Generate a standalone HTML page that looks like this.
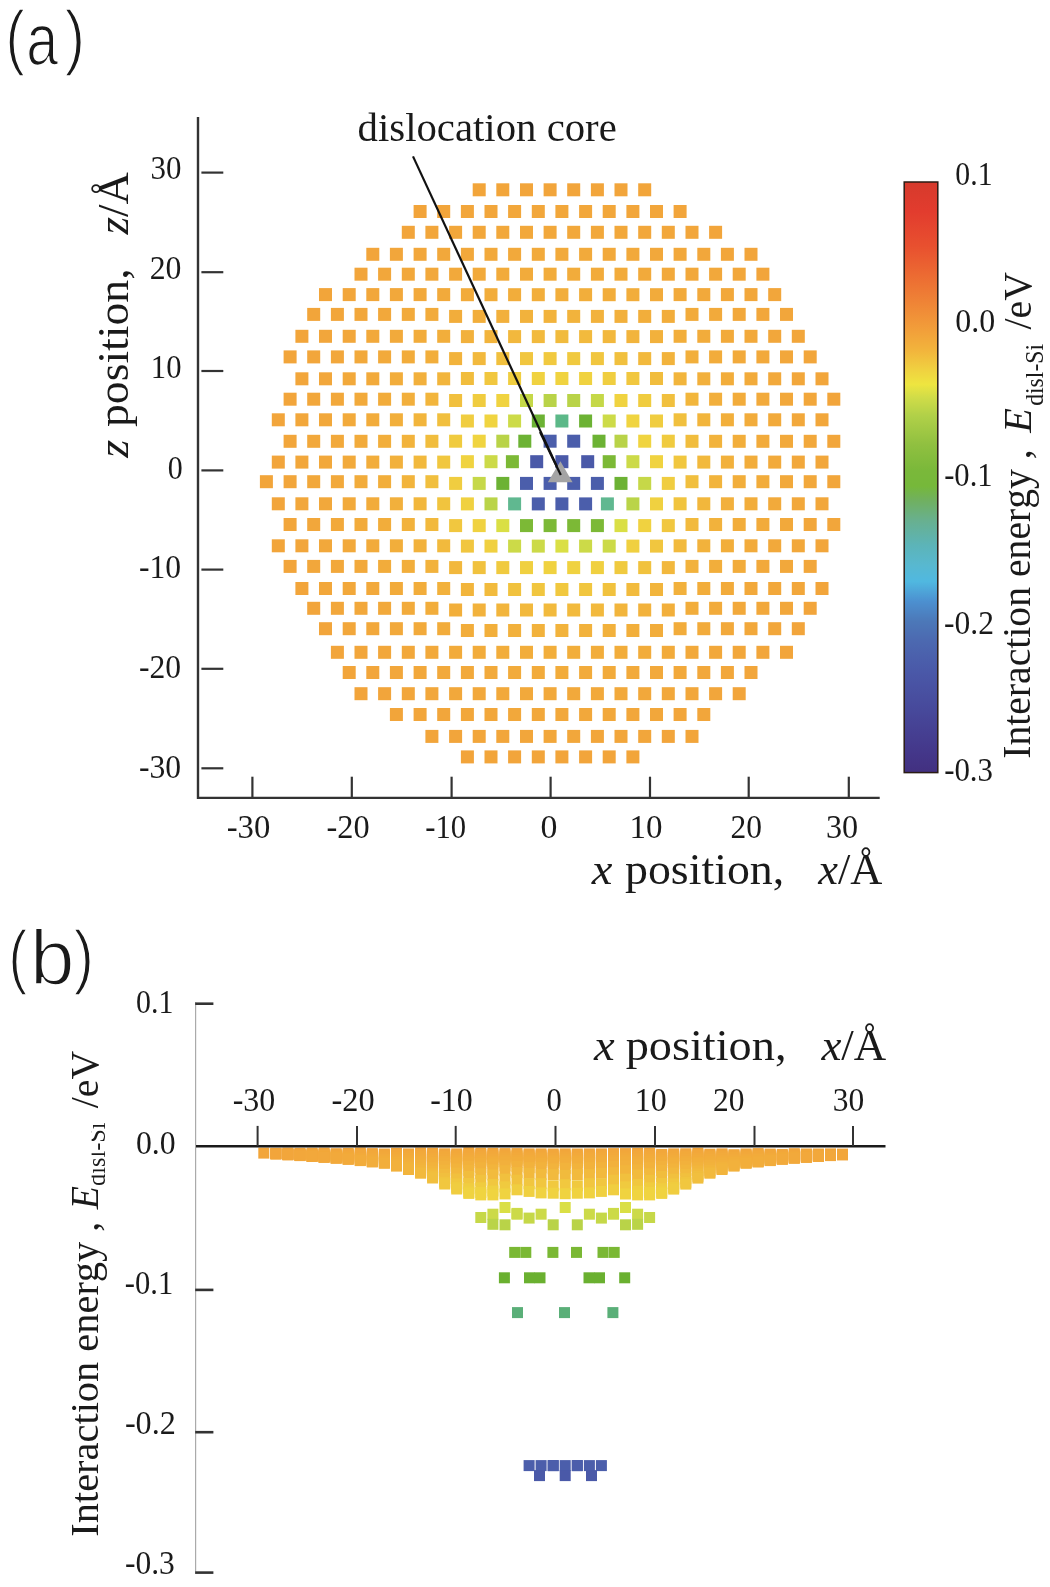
<!DOCTYPE html>
<html><head><meta charset="utf-8"><title>figure</title>
<style>html,body{margin:0;padding:0;background:#fff;width:1050px;height:1587px;overflow:hidden}svg{display:block;filter:blur(0.45px)}</style>
</head><body>
<svg width="1050" height="1587" viewBox="0 0 1050 1587">
<rect width="1050" height="1587" fill="#fff"/>
<path d="M198,117 V797.9 H879.7" fill="none" stroke="#333" stroke-width="2.4"/>
<line x1="201.4" y1="172.6" x2="223.3" y2="172.6" stroke="#333" stroke-width="2.2"/>
<line x1="201.4" y1="272.2" x2="223.3" y2="272.2" stroke="#333" stroke-width="2.2"/>
<line x1="201.4" y1="371" x2="223.3" y2="371" stroke="#333" stroke-width="2.2"/>
<line x1="201.4" y1="470.4" x2="223.3" y2="470.4" stroke="#333" stroke-width="2.2"/>
<line x1="201.4" y1="569.6" x2="223.3" y2="569.6" stroke="#333" stroke-width="2.2"/>
<line x1="201.4" y1="668.8" x2="223.3" y2="668.8" stroke="#333" stroke-width="2.2"/>
<line x1="201.4" y1="768.3" x2="223.3" y2="768.3" stroke="#333" stroke-width="2.2"/>
<line x1="252.4" y1="776.7" x2="252.4" y2="797" stroke="#333" stroke-width="2.2"/>
<line x1="351.8" y1="776.7" x2="351.8" y2="797" stroke="#333" stroke-width="2.2"/>
<line x1="451.6" y1="776.7" x2="451.6" y2="797" stroke="#333" stroke-width="2.2"/>
<line x1="550.6" y1="776.7" x2="550.6" y2="797" stroke="#333" stroke-width="2.2"/>
<line x1="650" y1="776.7" x2="650" y2="797" stroke="#333" stroke-width="2.2"/>
<line x1="748.7" y1="776.7" x2="748.7" y2="797" stroke="#333" stroke-width="2.2"/>
<line x1="848.8" y1="776.7" x2="848.8" y2="797" stroke="#333" stroke-width="2.2"/>
<rect x="472.7" y="183.3" width="13.0" height="13.0" fill="#F2A53A"/>
<rect x="496.3" y="183.3" width="13.0" height="13.0" fill="#F2A53A"/>
<rect x="520.0" y="183.3" width="13.0" height="13.0" fill="#F2A53B"/>
<rect x="543.6" y="183.3" width="13.0" height="13.0" fill="#F2A53B"/>
<rect x="567.2" y="183.3" width="13.0" height="13.0" fill="#F2A53B"/>
<rect x="590.9" y="183.3" width="13.0" height="13.0" fill="#F2A53B"/>
<rect x="614.5" y="183.3" width="13.0" height="13.0" fill="#F2A53B"/>
<rect x="638.2" y="183.3" width="13.0" height="13.0" fill="#F2A53A"/>
<rect x="413.6" y="205.0" width="13.0" height="13.0" fill="#F2A43A"/>
<rect x="437.2" y="205.0" width="13.0" height="13.0" fill="#F2A53B"/>
<rect x="460.9" y="205.0" width="13.0" height="13.0" fill="#F2A63B"/>
<rect x="484.5" y="205.0" width="13.0" height="13.0" fill="#F2A63B"/>
<rect x="508.1" y="205.0" width="13.0" height="13.0" fill="#F2A73B"/>
<rect x="531.8" y="205.0" width="13.0" height="13.0" fill="#F2A73B"/>
<rect x="555.4" y="205.0" width="13.0" height="13.0" fill="#F2A73B"/>
<rect x="579.1" y="205.0" width="13.0" height="13.0" fill="#F2A73B"/>
<rect x="602.7" y="205.0" width="13.0" height="13.0" fill="#F2A73B"/>
<rect x="626.4" y="205.0" width="13.0" height="13.0" fill="#F2A63B"/>
<rect x="650.0" y="205.0" width="13.0" height="13.0" fill="#F2A63B"/>
<rect x="673.6" y="205.0" width="13.0" height="13.0" fill="#F2A53B"/>
<rect x="401.8" y="225.8" width="13.0" height="13.0" fill="#F2A53B"/>
<rect x="425.4" y="225.8" width="13.0" height="13.0" fill="#F2A63B"/>
<rect x="449.1" y="225.8" width="13.0" height="13.0" fill="#F2A73B"/>
<rect x="472.7" y="225.8" width="13.0" height="13.0" fill="#F2A73B"/>
<rect x="496.3" y="225.8" width="13.0" height="13.0" fill="#F2A83B"/>
<rect x="520.0" y="225.8" width="13.0" height="13.0" fill="#F2A83B"/>
<rect x="543.6" y="225.8" width="13.0" height="13.0" fill="#F2A83B"/>
<rect x="567.2" y="225.8" width="13.0" height="13.0" fill="#F2A83B"/>
<rect x="590.9" y="225.8" width="13.0" height="13.0" fill="#F2A83B"/>
<rect x="614.5" y="225.8" width="13.0" height="13.0" fill="#F2A83B"/>
<rect x="638.2" y="225.8" width="13.0" height="13.0" fill="#F2A73B"/>
<rect x="661.8" y="225.8" width="13.0" height="13.0" fill="#F2A73B"/>
<rect x="685.5" y="225.8" width="13.0" height="13.0" fill="#F2A63B"/>
<rect x="709.1" y="225.8" width="13.0" height="13.0" fill="#F2A53B"/>
<rect x="366.3" y="247.8" width="13.0" height="13.0" fill="#F2A53B"/>
<rect x="389.9" y="247.8" width="13.0" height="13.0" fill="#F2A63B"/>
<rect x="413.6" y="247.8" width="13.0" height="13.0" fill="#F2A73B"/>
<rect x="437.2" y="247.8" width="13.0" height="13.0" fill="#F2A83B"/>
<rect x="460.9" y="247.8" width="13.0" height="13.0" fill="#F2A83B"/>
<rect x="484.5" y="247.8" width="13.0" height="13.0" fill="#F2A93B"/>
<rect x="508.1" y="247.8" width="13.0" height="13.0" fill="#F2A93B"/>
<rect x="531.8" y="247.8" width="13.0" height="13.0" fill="#F2AA3B"/>
<rect x="555.4" y="247.8" width="13.0" height="13.0" fill="#F2AA3B"/>
<rect x="579.1" y="247.8" width="13.0" height="13.0" fill="#F2AA3B"/>
<rect x="602.7" y="247.8" width="13.0" height="13.0" fill="#F2A93B"/>
<rect x="626.4" y="247.8" width="13.0" height="13.0" fill="#F2A93B"/>
<rect x="650.0" y="247.8" width="13.0" height="13.0" fill="#F2A83B"/>
<rect x="673.6" y="247.8" width="13.0" height="13.0" fill="#F2A83B"/>
<rect x="697.3" y="247.8" width="13.0" height="13.0" fill="#F2A73B"/>
<rect x="720.9" y="247.8" width="13.0" height="13.0" fill="#F2A63B"/>
<rect x="744.5" y="247.8" width="13.0" height="13.0" fill="#F2A53B"/>
<rect x="354.5" y="267.7" width="13.0" height="13.0" fill="#F2A53B"/>
<rect x="378.1" y="267.7" width="13.0" height="13.0" fill="#F2A73B"/>
<rect x="401.8" y="267.7" width="13.0" height="13.0" fill="#F2A83B"/>
<rect x="425.4" y="267.7" width="13.0" height="13.0" fill="#F2A83B"/>
<rect x="449.1" y="267.7" width="13.0" height="13.0" fill="#F2A93B"/>
<rect x="472.7" y="267.7" width="13.0" height="13.0" fill="#F2AA3B"/>
<rect x="496.3" y="267.7" width="13.0" height="13.0" fill="#F2AB3B"/>
<rect x="520.0" y="267.7" width="13.0" height="13.0" fill="#F2AB3B"/>
<rect x="543.6" y="267.7" width="13.0" height="13.0" fill="#F2AC3B"/>
<rect x="567.2" y="267.7" width="13.0" height="13.0" fill="#F2AC3B"/>
<rect x="590.9" y="267.7" width="13.0" height="13.0" fill="#F2AB3B"/>
<rect x="614.5" y="267.7" width="13.0" height="13.0" fill="#F2AB3B"/>
<rect x="638.2" y="267.7" width="13.0" height="13.0" fill="#F2AA3B"/>
<rect x="661.8" y="267.7" width="13.0" height="13.0" fill="#F2A93B"/>
<rect x="685.5" y="267.7" width="13.0" height="13.0" fill="#F2A83B"/>
<rect x="709.1" y="267.7" width="13.0" height="13.0" fill="#F2A83B"/>
<rect x="732.7" y="267.7" width="13.0" height="13.0" fill="#F2A73B"/>
<rect x="756.4" y="267.7" width="13.0" height="13.0" fill="#F2A53B"/>
<rect x="319.0" y="288.1" width="13.0" height="13.0" fill="#F2A53A"/>
<rect x="342.7" y="288.1" width="13.0" height="13.0" fill="#F2A63B"/>
<rect x="366.3" y="288.1" width="13.0" height="13.0" fill="#F2A73B"/>
<rect x="389.9" y="288.1" width="13.0" height="13.0" fill="#F2A83B"/>
<rect x="413.6" y="288.1" width="13.0" height="13.0" fill="#F2A93B"/>
<rect x="437.2" y="288.1" width="13.0" height="13.0" fill="#F2AA3B"/>
<rect x="460.9" y="288.2" width="13.0" height="13.0" fill="#F2AB3B"/>
<rect x="484.5" y="288.2" width="13.0" height="13.0" fill="#F2AD3B"/>
<rect x="508.1" y="288.2" width="13.0" height="13.0" fill="#F2AD3B"/>
<rect x="531.8" y="288.2" width="13.0" height="13.0" fill="#F2AE3B"/>
<rect x="555.4" y="288.2" width="13.0" height="13.0" fill="#F2AE3B"/>
<rect x="579.1" y="288.2" width="13.0" height="13.0" fill="#F2AE3B"/>
<rect x="602.7" y="288.2" width="13.0" height="13.0" fill="#F2AD3B"/>
<rect x="626.4" y="288.2" width="13.0" height="13.0" fill="#F2AD3B"/>
<rect x="650.0" y="288.2" width="13.0" height="13.0" fill="#F2AB3B"/>
<rect x="673.6" y="288.1" width="13.0" height="13.0" fill="#F2AA3B"/>
<rect x="697.3" y="288.1" width="13.0" height="13.0" fill="#F2A93B"/>
<rect x="720.9" y="288.1" width="13.0" height="13.0" fill="#F2A83B"/>
<rect x="744.5" y="288.1" width="13.0" height="13.0" fill="#F2A73B"/>
<rect x="768.2" y="288.1" width="13.0" height="13.0" fill="#F2A63B"/>
<rect x="307.2" y="307.9" width="13.0" height="13.0" fill="#F2A53A"/>
<rect x="330.9" y="307.9" width="13.0" height="13.0" fill="#F2A63B"/>
<rect x="354.5" y="307.9" width="13.0" height="13.0" fill="#F2A73B"/>
<rect x="378.1" y="307.9" width="13.0" height="13.0" fill="#F2A83B"/>
<rect x="401.8" y="307.9" width="13.0" height="13.0" fill="#F2AA3B"/>
<rect x="425.4" y="307.9" width="13.0" height="13.0" fill="#F2AB3B"/>
<rect x="449.1" y="309.9" width="13.0" height="13.0" fill="#F2AD3B"/>
<rect x="472.7" y="309.9" width="13.0" height="13.0" fill="#F2AE3B"/>
<rect x="496.3" y="309.9" width="13.0" height="13.0" fill="#F2B03C"/>
<rect x="520.0" y="309.9" width="13.0" height="13.0" fill="#F2B23C"/>
<rect x="543.6" y="309.9" width="13.0" height="13.0" fill="#F2B33C"/>
<rect x="567.2" y="309.9" width="13.0" height="13.0" fill="#F2B33C"/>
<rect x="590.9" y="309.9" width="13.0" height="13.0" fill="#F2B23C"/>
<rect x="614.5" y="309.9" width="13.0" height="13.0" fill="#F2B03C"/>
<rect x="638.2" y="309.9" width="13.0" height="13.0" fill="#F2AE3B"/>
<rect x="661.8" y="309.9" width="13.0" height="13.0" fill="#F2AD3B"/>
<rect x="685.5" y="307.9" width="13.0" height="13.0" fill="#F2AB3B"/>
<rect x="709.1" y="307.9" width="13.0" height="13.0" fill="#F2AA3B"/>
<rect x="732.7" y="307.9" width="13.0" height="13.0" fill="#F2A83B"/>
<rect x="756.4" y="307.9" width="13.0" height="13.0" fill="#F2A73B"/>
<rect x="780.0" y="307.9" width="13.0" height="13.0" fill="#F2A63B"/>
<rect x="295.4" y="329.8" width="13.0" height="13.0" fill="#F2A53A"/>
<rect x="319.0" y="329.8" width="13.0" height="13.0" fill="#F2A63B"/>
<rect x="342.7" y="329.8" width="13.0" height="13.0" fill="#F2A73B"/>
<rect x="366.3" y="329.8" width="13.0" height="13.0" fill="#F2A93B"/>
<rect x="389.9" y="329.8" width="13.0" height="13.0" fill="#F2AA3B"/>
<rect x="413.6" y="329.8" width="13.0" height="13.0" fill="#F2AC3B"/>
<rect x="437.2" y="329.8" width="13.0" height="13.0" fill="#F2AE3B"/>
<rect x="460.9" y="330.1" width="13.0" height="13.0" fill="#F2B13C"/>
<rect x="484.5" y="330.1" width="13.0" height="13.0" fill="#F2B43C"/>
<rect x="508.1" y="330.1" width="13.0" height="13.0" fill="#F2B83D"/>
<rect x="531.8" y="330.1" width="13.0" height="13.0" fill="#F2BA3D"/>
<rect x="555.4" y="330.1" width="13.0" height="13.0" fill="#F1BB3D"/>
<rect x="579.1" y="330.1" width="13.0" height="13.0" fill="#F2BA3D"/>
<rect x="602.7" y="330.1" width="13.0" height="13.0" fill="#F2B83D"/>
<rect x="626.4" y="330.1" width="13.0" height="13.0" fill="#F2B43C"/>
<rect x="650.0" y="330.1" width="13.0" height="13.0" fill="#F2B13C"/>
<rect x="673.6" y="329.8" width="13.0" height="13.0" fill="#F2AE3B"/>
<rect x="697.3" y="329.8" width="13.0" height="13.0" fill="#F2AC3B"/>
<rect x="720.9" y="329.8" width="13.0" height="13.0" fill="#F2AA3B"/>
<rect x="744.5" y="329.8" width="13.0" height="13.0" fill="#F2A93B"/>
<rect x="768.2" y="329.8" width="13.0" height="13.0" fill="#F2A73B"/>
<rect x="791.8" y="329.8" width="13.0" height="13.0" fill="#F2A63B"/>
<rect x="283.6" y="350.4" width="13.0" height="13.0" fill="#F2A53A"/>
<rect x="307.2" y="350.4" width="13.0" height="13.0" fill="#F2A63B"/>
<rect x="330.9" y="350.4" width="13.0" height="13.0" fill="#F2A73B"/>
<rect x="354.5" y="350.4" width="13.0" height="13.0" fill="#F2A93B"/>
<rect x="378.1" y="350.4" width="13.0" height="13.0" fill="#F2AA3B"/>
<rect x="401.8" y="350.4" width="13.0" height="13.0" fill="#F2AC3B"/>
<rect x="425.4" y="350.4" width="13.0" height="13.0" fill="#F2AE3B"/>
<rect x="449.1" y="352.1" width="13.0" height="13.0" fill="#F2B33C"/>
<rect x="472.7" y="352.1" width="13.0" height="13.0" fill="#F2B93D"/>
<rect x="496.3" y="352.1" width="13.0" height="13.0" fill="#F1C03E"/>
<rect x="520.0" y="352.1" width="13.0" height="13.0" fill="#F1C63F"/>
<rect x="543.6" y="352.1" width="13.0" height="13.0" fill="#F1C93F"/>
<rect x="567.2" y="352.1" width="13.0" height="13.0" fill="#F0C93F"/>
<rect x="590.9" y="352.1" width="13.0" height="13.0" fill="#F1C63F"/>
<rect x="614.5" y="352.1" width="13.0" height="13.0" fill="#F1C03E"/>
<rect x="638.2" y="352.1" width="13.0" height="13.0" fill="#F2B93D"/>
<rect x="661.8" y="352.1" width="13.0" height="13.0" fill="#F2B33C"/>
<rect x="685.5" y="350.4" width="13.0" height="13.0" fill="#F2AF3B"/>
<rect x="709.1" y="350.4" width="13.0" height="13.0" fill="#F2AC3B"/>
<rect x="732.7" y="350.4" width="13.0" height="13.0" fill="#F2AA3B"/>
<rect x="756.4" y="350.4" width="13.0" height="13.0" fill="#F2A93B"/>
<rect x="780.0" y="350.4" width="13.0" height="13.0" fill="#F2A73B"/>
<rect x="803.7" y="350.4" width="13.0" height="13.0" fill="#F2A63B"/>
<rect x="295.4" y="372.3" width="13.0" height="13.0" fill="#F2A63B"/>
<rect x="319.0" y="372.3" width="13.0" height="13.0" fill="#F2A73B"/>
<rect x="342.7" y="372.3" width="13.0" height="13.0" fill="#F2A93B"/>
<rect x="366.3" y="372.3" width="13.0" height="13.0" fill="#F2AA3B"/>
<rect x="389.9" y="372.3" width="13.0" height="13.0" fill="#F2AD3B"/>
<rect x="413.6" y="372.3" width="13.0" height="13.0" fill="#F2B03C"/>
<rect x="437.2" y="372.3" width="13.0" height="13.0" fill="#F2B53C"/>
<rect x="460.9" y="372.0" width="13.0" height="13.0" fill="#F1BD3D"/>
<rect x="484.5" y="372.0" width="13.0" height="13.0" fill="#F1C73F"/>
<rect x="508.1" y="372.0" width="13.0" height="13.0" fill="#F0CE40"/>
<rect x="531.8" y="372.0" width="13.0" height="13.0" fill="#F0D240"/>
<rect x="555.4" y="372.0" width="13.0" height="13.0" fill="#F0D340"/>
<rect x="579.1" y="372.0" width="13.0" height="13.0" fill="#F0D240"/>
<rect x="602.7" y="372.0" width="13.0" height="13.0" fill="#F0CE40"/>
<rect x="626.4" y="372.0" width="13.0" height="13.0" fill="#F1C73F"/>
<rect x="650.0" y="372.0" width="13.0" height="13.0" fill="#F1BD3D"/>
<rect x="673.6" y="372.3" width="13.0" height="13.0" fill="#F2B53C"/>
<rect x="697.3" y="372.3" width="13.0" height="13.0" fill="#F2B03C"/>
<rect x="720.9" y="372.3" width="13.0" height="13.0" fill="#F2AD3B"/>
<rect x="744.5" y="372.3" width="13.0" height="13.0" fill="#F2AB3B"/>
<rect x="768.2" y="372.3" width="13.0" height="13.0" fill="#F2A93B"/>
<rect x="791.8" y="372.3" width="13.0" height="13.0" fill="#F2A73B"/>
<rect x="815.5" y="372.3" width="13.0" height="13.0" fill="#F2A63B"/>
<rect x="283.6" y="392.7" width="13.0" height="13.0" fill="#F2A53B"/>
<rect x="307.2" y="392.7" width="13.0" height="13.0" fill="#F2A73B"/>
<rect x="330.9" y="392.7" width="13.0" height="13.0" fill="#F2A83B"/>
<rect x="354.5" y="392.7" width="13.0" height="13.0" fill="#F2AA3B"/>
<rect x="378.1" y="392.7" width="13.0" height="13.0" fill="#F2AC3B"/>
<rect x="401.8" y="392.7" width="13.0" height="13.0" fill="#F2AF3C"/>
<rect x="425.4" y="392.7" width="13.0" height="13.0" fill="#F2B53C"/>
<rect x="449.1" y="394.0" width="13.0" height="13.0" fill="#F1C03E"/>
<rect x="472.7" y="394.0" width="13.0" height="13.0" fill="#F0CC3F"/>
<rect x="496.3" y="394.0" width="13.0" height="13.0" fill="#F0D340"/>
<rect x="520.0" y="394.0" width="13.0" height="13.0" fill="#C5D848"/>
<rect x="543.6" y="394.0" width="13.0" height="13.0" fill="#B9D348"/>
<rect x="567.2" y="394.0" width="13.0" height="13.0" fill="#B9D348"/>
<rect x="590.9" y="394.0" width="13.0" height="13.0" fill="#C5D848"/>
<rect x="614.5" y="394.0" width="13.0" height="13.0" fill="#F0D340"/>
<rect x="638.2" y="394.0" width="13.0" height="13.0" fill="#F0CC3F"/>
<rect x="661.8" y="394.0" width="13.0" height="13.0" fill="#F1C03E"/>
<rect x="685.5" y="392.7" width="13.0" height="13.0" fill="#F2B63C"/>
<rect x="709.1" y="392.7" width="13.0" height="13.0" fill="#F2AF3C"/>
<rect x="732.7" y="392.7" width="13.0" height="13.0" fill="#F2AC3B"/>
<rect x="756.4" y="392.7" width="13.0" height="13.0" fill="#F2AA3B"/>
<rect x="780.0" y="392.7" width="13.0" height="13.0" fill="#F2A83B"/>
<rect x="803.7" y="392.7" width="13.0" height="13.0" fill="#F2A73B"/>
<rect x="827.3" y="392.7" width="13.0" height="13.0" fill="#F2A53B"/>
<rect x="271.8" y="413.3" width="13.0" height="13.0" fill="#F2A53B"/>
<rect x="295.4" y="413.3" width="13.0" height="13.0" fill="#F2A73B"/>
<rect x="319.0" y="413.3" width="13.0" height="13.0" fill="#F2A83B"/>
<rect x="342.7" y="413.3" width="13.0" height="13.0" fill="#F2AA3B"/>
<rect x="366.3" y="413.3" width="13.0" height="13.0" fill="#F2AC3B"/>
<rect x="389.9" y="413.3" width="13.0" height="13.0" fill="#F2AF3B"/>
<rect x="413.6" y="413.3" width="13.0" height="13.0" fill="#F2B53C"/>
<rect x="437.2" y="413.3" width="13.0" height="13.0" fill="#F1BF3E"/>
<rect x="460.9" y="414.5" width="13.0" height="13.0" fill="#F0CD40"/>
<rect x="484.5" y="414.5" width="13.0" height="13.0" fill="#F0D440"/>
<rect x="508.1" y="414.5" width="13.0" height="13.0" fill="#CDDB48"/>
<rect x="531.8" y="414.5" width="13.0" height="13.0" fill="#6CB234"/>
<rect x="555.4" y="414.5" width="13.0" height="13.0" fill="#5CB888"/>
<rect x="579.1" y="414.5" width="13.0" height="13.0" fill="#6CB234"/>
<rect x="602.7" y="414.5" width="13.0" height="13.0" fill="#CDDB48"/>
<rect x="626.4" y="414.5" width="13.0" height="13.0" fill="#F0D440"/>
<rect x="650.0" y="414.5" width="13.0" height="13.0" fill="#F0CD40"/>
<rect x="673.6" y="413.3" width="13.0" height="13.0" fill="#F1C03E"/>
<rect x="697.3" y="413.3" width="13.0" height="13.0" fill="#F2B53C"/>
<rect x="720.9" y="413.3" width="13.0" height="13.0" fill="#F2AF3B"/>
<rect x="744.5" y="413.3" width="13.0" height="13.0" fill="#F2AC3B"/>
<rect x="768.2" y="413.3" width="13.0" height="13.0" fill="#F2AA3B"/>
<rect x="791.8" y="413.3" width="13.0" height="13.0" fill="#F2A83B"/>
<rect x="815.5" y="413.3" width="13.0" height="13.0" fill="#F2A73B"/>
<rect x="283.6" y="434.8" width="13.0" height="13.0" fill="#F2A63B"/>
<rect x="307.2" y="434.8" width="13.0" height="13.0" fill="#F2A83B"/>
<rect x="330.9" y="434.8" width="13.0" height="13.0" fill="#F2A93B"/>
<rect x="354.5" y="434.8" width="13.0" height="13.0" fill="#F2AB3B"/>
<rect x="378.1" y="434.8" width="13.0" height="13.0" fill="#F2AE3B"/>
<rect x="401.8" y="434.8" width="13.0" height="13.0" fill="#F2B33C"/>
<rect x="425.4" y="434.8" width="13.0" height="13.0" fill="#F1BD3D"/>
<rect x="449.1" y="434.7" width="13.0" height="13.0" fill="#F0CB3F"/>
<rect x="472.7" y="434.7" width="13.0" height="13.0" fill="#F0D440"/>
<rect x="496.3" y="434.7" width="13.0" height="13.0" fill="#B9D348"/>
<rect x="518.3" y="434.7" width="13.0" height="13.0" fill="#6CB234"/>
<rect x="543.6" y="434.7" width="13.0" height="13.0" fill="#4B5EAB"/>
<rect x="567.2" y="434.7" width="13.0" height="13.0" fill="#4B5EAB"/>
<rect x="592.5" y="434.7" width="13.0" height="13.0" fill="#6CB234"/>
<rect x="614.5" y="434.7" width="13.0" height="13.0" fill="#B9D348"/>
<rect x="638.2" y="434.7" width="13.0" height="13.0" fill="#F0D440"/>
<rect x="661.8" y="434.7" width="13.0" height="13.0" fill="#F0CB3F"/>
<rect x="685.5" y="434.8" width="13.0" height="13.0" fill="#F1BD3D"/>
<rect x="709.1" y="434.8" width="13.0" height="13.0" fill="#F2B33C"/>
<rect x="732.7" y="434.8" width="13.0" height="13.0" fill="#F2AE3B"/>
<rect x="756.4" y="434.8" width="13.0" height="13.0" fill="#F2AB3B"/>
<rect x="780.0" y="434.8" width="13.0" height="13.0" fill="#F2A93B"/>
<rect x="803.7" y="434.8" width="13.0" height="13.0" fill="#F2A83B"/>
<rect x="827.3" y="434.8" width="13.0" height="13.0" fill="#F2A63B"/>
<rect x="271.8" y="455.6" width="13.0" height="13.0" fill="#F2A53B"/>
<rect x="295.4" y="455.6" width="13.0" height="13.0" fill="#F2A73B"/>
<rect x="319.0" y="455.6" width="13.0" height="13.0" fill="#F2A83B"/>
<rect x="342.7" y="455.6" width="13.0" height="13.0" fill="#F2AA3B"/>
<rect x="366.3" y="455.6" width="13.0" height="13.0" fill="#F2AD3B"/>
<rect x="389.9" y="455.6" width="13.0" height="13.0" fill="#F2B13C"/>
<rect x="413.6" y="455.6" width="13.0" height="13.0" fill="#F2B93D"/>
<rect x="437.2" y="455.6" width="13.0" height="13.0" fill="#F1C73F"/>
<rect x="460.9" y="455.2" width="13.0" height="13.0" fill="#F0D340"/>
<rect x="484.5" y="455.2" width="13.0" height="13.0" fill="#CCDA48"/>
<rect x="505.9" y="455.2" width="13.0" height="13.0" fill="#7CB936"/>
<rect x="530.2" y="455.2" width="13.0" height="13.0" fill="#4A59A8"/>
<rect x="555.4" y="455.2" width="13.0" height="13.0" fill="#4A59A8"/>
<rect x="581.2" y="455.2" width="13.0" height="13.0" fill="#4A59A8"/>
<rect x="602.7" y="455.2" width="13.0" height="13.0" fill="#7CB936"/>
<rect x="626.4" y="455.2" width="13.0" height="13.0" fill="#CCDA48"/>
<rect x="650.0" y="455.2" width="13.0" height="13.0" fill="#F0D340"/>
<rect x="673.6" y="455.6" width="13.0" height="13.0" fill="#F1C73F"/>
<rect x="697.3" y="455.6" width="13.0" height="13.0" fill="#F2B93D"/>
<rect x="720.9" y="455.6" width="13.0" height="13.0" fill="#F2B13C"/>
<rect x="744.5" y="455.6" width="13.0" height="13.0" fill="#F2AD3B"/>
<rect x="768.2" y="455.6" width="13.0" height="13.0" fill="#F2AA3B"/>
<rect x="791.8" y="455.6" width="13.0" height="13.0" fill="#F2A83B"/>
<rect x="815.5" y="455.6" width="13.0" height="13.0" fill="#F2A73B"/>
<rect x="259.9" y="475.2" width="13.0" height="13.0" fill="#F2A53A"/>
<rect x="283.6" y="475.2" width="13.0" height="13.0" fill="#F2A63B"/>
<rect x="307.2" y="475.2" width="13.0" height="13.0" fill="#F2A83B"/>
<rect x="330.9" y="475.2" width="13.0" height="13.0" fill="#F2A93B"/>
<rect x="354.5" y="475.2" width="13.0" height="13.0" fill="#F2AC3B"/>
<rect x="378.1" y="475.2" width="13.0" height="13.0" fill="#F2AE3B"/>
<rect x="401.8" y="475.2" width="13.0" height="13.0" fill="#F2B43C"/>
<rect x="425.4" y="475.2" width="13.0" height="13.0" fill="#F1BF3E"/>
<rect x="449.1" y="476.9" width="13.0" height="13.0" fill="#F0CD40"/>
<rect x="472.7" y="476.9" width="13.0" height="13.0" fill="#C6D848"/>
<rect x="496.3" y="476.9" width="13.0" height="13.0" fill="#6CB234"/>
<rect x="520.0" y="476.9" width="13.0" height="13.0" fill="#4B5EAB"/>
<rect x="543.6" y="476.9" width="13.0" height="13.0" fill="#4B5EAB"/>
<rect x="567.2" y="476.9" width="13.0" height="13.0" fill="#4B5EAB"/>
<rect x="590.9" y="476.9" width="13.0" height="13.0" fill="#4B5EAB"/>
<rect x="614.5" y="476.9" width="13.0" height="13.0" fill="#6CB234"/>
<rect x="638.2" y="476.9" width="13.0" height="13.0" fill="#C6D848"/>
<rect x="661.8" y="476.9" width="13.0" height="13.0" fill="#F0CD40"/>
<rect x="685.5" y="475.2" width="13.0" height="13.0" fill="#F1BF3E"/>
<rect x="709.1" y="475.2" width="13.0" height="13.0" fill="#F2B43C"/>
<rect x="732.7" y="475.2" width="13.0" height="13.0" fill="#F2AE3B"/>
<rect x="756.4" y="475.2" width="13.0" height="13.0" fill="#F2AC3B"/>
<rect x="780.0" y="475.2" width="13.0" height="13.0" fill="#F2A93B"/>
<rect x="803.7" y="475.2" width="13.0" height="13.0" fill="#F2A83B"/>
<rect x="827.3" y="475.2" width="13.0" height="13.0" fill="#F2A63B"/>
<rect x="271.8" y="497.3" width="13.0" height="13.0" fill="#F2A53B"/>
<rect x="295.4" y="497.3" width="13.0" height="13.0" fill="#F2A73B"/>
<rect x="319.0" y="497.3" width="13.0" height="13.0" fill="#F2A83B"/>
<rect x="342.7" y="497.3" width="13.0" height="13.0" fill="#F2AA3B"/>
<rect x="366.3" y="497.3" width="13.0" height="13.0" fill="#F2AC3B"/>
<rect x="389.9" y="497.3" width="13.0" height="13.0" fill="#F2B03C"/>
<rect x="413.6" y="497.3" width="13.0" height="13.0" fill="#F2B73C"/>
<rect x="437.2" y="497.3" width="13.0" height="13.0" fill="#F1C43E"/>
<rect x="460.9" y="497.4" width="13.0" height="13.0" fill="#F0D140"/>
<rect x="484.5" y="497.4" width="13.0" height="13.0" fill="#BAD448"/>
<rect x="508.1" y="497.4" width="13.0" height="13.0" fill="#60B890"/>
<rect x="531.8" y="497.4" width="13.0" height="13.0" fill="#4B5EAB"/>
<rect x="555.4" y="497.4" width="13.0" height="13.0" fill="#4B5EAB"/>
<rect x="579.1" y="497.4" width="13.0" height="13.0" fill="#4B5EAB"/>
<rect x="600.9" y="497.4" width="13.0" height="13.0" fill="#60B890"/>
<rect x="626.4" y="497.4" width="13.0" height="13.0" fill="#BAD448"/>
<rect x="650.0" y="497.4" width="13.0" height="13.0" fill="#F0D140"/>
<rect x="673.6" y="497.3" width="13.0" height="13.0" fill="#F1C43E"/>
<rect x="697.3" y="497.3" width="13.0" height="13.0" fill="#F2B73C"/>
<rect x="720.9" y="497.3" width="13.0" height="13.0" fill="#F2B03C"/>
<rect x="744.5" y="497.3" width="13.0" height="13.0" fill="#F2AD3B"/>
<rect x="768.2" y="497.3" width="13.0" height="13.0" fill="#F2AA3B"/>
<rect x="791.8" y="497.3" width="13.0" height="13.0" fill="#F2A83B"/>
<rect x="815.5" y="497.3" width="13.0" height="13.0" fill="#F2A73B"/>
<rect x="283.6" y="518.0" width="13.0" height="13.0" fill="#F2A63B"/>
<rect x="307.2" y="518.0" width="13.0" height="13.0" fill="#F2A73B"/>
<rect x="330.9" y="518.0" width="13.0" height="13.0" fill="#F2A93B"/>
<rect x="354.5" y="518.0" width="13.0" height="13.0" fill="#F2AB3B"/>
<rect x="378.1" y="518.0" width="13.0" height="13.0" fill="#F2AD3B"/>
<rect x="401.8" y="518.0" width="13.0" height="13.0" fill="#F2B23C"/>
<rect x="425.4" y="518.0" width="13.0" height="13.0" fill="#F2B93D"/>
<rect x="449.1" y="519.1" width="13.0" height="13.0" fill="#F1C73F"/>
<rect x="472.7" y="519.1" width="13.0" height="13.0" fill="#F0D240"/>
<rect x="496.3" y="519.1" width="13.0" height="13.0" fill="#DADF45"/>
<rect x="520.0" y="519.1" width="13.0" height="13.0" fill="#7CB936"/>
<rect x="543.6" y="519.1" width="13.0" height="13.0" fill="#7CB936"/>
<rect x="567.2" y="519.1" width="13.0" height="13.0" fill="#7CB936"/>
<rect x="590.9" y="519.1" width="13.0" height="13.0" fill="#7CB936"/>
<rect x="614.5" y="519.1" width="13.0" height="13.0" fill="#DADF45"/>
<rect x="638.2" y="519.1" width="13.0" height="13.0" fill="#F0D240"/>
<rect x="661.8" y="519.1" width="13.0" height="13.0" fill="#F1C73F"/>
<rect x="685.5" y="518.0" width="13.0" height="13.0" fill="#F2BA3D"/>
<rect x="709.1" y="518.0" width="13.0" height="13.0" fill="#F2B23C"/>
<rect x="732.7" y="518.0" width="13.0" height="13.0" fill="#F2AD3B"/>
<rect x="756.4" y="518.0" width="13.0" height="13.0" fill="#F2AB3B"/>
<rect x="780.0" y="518.0" width="13.0" height="13.0" fill="#F2A93B"/>
<rect x="803.7" y="518.0" width="13.0" height="13.0" fill="#F2A73B"/>
<rect x="827.3" y="518.0" width="13.0" height="13.0" fill="#F2A63B"/>
<rect x="271.8" y="539.3" width="13.0" height="13.0" fill="#F2A53A"/>
<rect x="295.4" y="539.3" width="13.0" height="13.0" fill="#F2A63B"/>
<rect x="319.0" y="539.3" width="13.0" height="13.0" fill="#F2A83B"/>
<rect x="342.7" y="539.3" width="13.0" height="13.0" fill="#F2A93B"/>
<rect x="366.3" y="539.3" width="13.0" height="13.0" fill="#F2AB3B"/>
<rect x="389.9" y="539.3" width="13.0" height="13.0" fill="#F2AE3B"/>
<rect x="413.6" y="539.3" width="13.0" height="13.0" fill="#F2B23C"/>
<rect x="437.2" y="539.3" width="13.0" height="13.0" fill="#F2BA3D"/>
<rect x="460.9" y="539.6" width="13.0" height="13.0" fill="#F1C63F"/>
<rect x="484.5" y="539.6" width="13.0" height="13.0" fill="#F0D040"/>
<rect x="508.1" y="539.6" width="13.0" height="13.0" fill="#CCDA48"/>
<rect x="531.8" y="539.6" width="13.0" height="13.0" fill="#CCDA48"/>
<rect x="555.4" y="539.6" width="13.0" height="13.0" fill="#DADF45"/>
<rect x="579.1" y="539.6" width="13.0" height="13.0" fill="#CCDA48"/>
<rect x="602.7" y="539.6" width="13.0" height="13.0" fill="#CCDA48"/>
<rect x="626.4" y="539.6" width="13.0" height="13.0" fill="#F0D040"/>
<rect x="650.0" y="539.6" width="13.0" height="13.0" fill="#F1C63F"/>
<rect x="673.6" y="539.3" width="13.0" height="13.0" fill="#F2BA3D"/>
<rect x="697.3" y="539.3" width="13.0" height="13.0" fill="#F2B23C"/>
<rect x="720.9" y="539.3" width="13.0" height="13.0" fill="#F2AE3B"/>
<rect x="744.5" y="539.3" width="13.0" height="13.0" fill="#F2AB3B"/>
<rect x="768.2" y="539.3" width="13.0" height="13.0" fill="#F2A93B"/>
<rect x="791.8" y="539.3" width="13.0" height="13.0" fill="#F2A83B"/>
<rect x="815.5" y="539.3" width="13.0" height="13.0" fill="#F2A63B"/>
<rect x="283.6" y="559.9" width="13.0" height="13.0" fill="#F2A53B"/>
<rect x="307.2" y="559.9" width="13.0" height="13.0" fill="#F2A73B"/>
<rect x="330.9" y="559.9" width="13.0" height="13.0" fill="#F2A83B"/>
<rect x="354.5" y="559.9" width="13.0" height="13.0" fill="#F2A93B"/>
<rect x="378.1" y="559.9" width="13.0" height="13.0" fill="#F2AC3B"/>
<rect x="401.8" y="559.9" width="13.0" height="13.0" fill="#F2AE3B"/>
<rect x="425.4" y="559.9" width="13.0" height="13.0" fill="#F2B23C"/>
<rect x="449.1" y="561.1" width="13.0" height="13.0" fill="#F2B83D"/>
<rect x="472.7" y="561.1" width="13.0" height="13.0" fill="#F1C23E"/>
<rect x="496.3" y="561.1" width="13.0" height="13.0" fill="#F0CA3F"/>
<rect x="520.0" y="561.1" width="13.0" height="13.0" fill="#F0D040"/>
<rect x="543.6" y="561.1" width="13.0" height="13.0" fill="#F0D240"/>
<rect x="567.2" y="561.1" width="13.0" height="13.0" fill="#F0D240"/>
<rect x="590.9" y="561.1" width="13.0" height="13.0" fill="#F0D040"/>
<rect x="614.5" y="561.1" width="13.0" height="13.0" fill="#F0CA3F"/>
<rect x="638.2" y="561.1" width="13.0" height="13.0" fill="#F1C23E"/>
<rect x="661.8" y="561.1" width="13.0" height="13.0" fill="#F2B83D"/>
<rect x="685.5" y="559.9" width="13.0" height="13.0" fill="#F2B23C"/>
<rect x="709.1" y="559.9" width="13.0" height="13.0" fill="#F2AE3B"/>
<rect x="732.7" y="559.9" width="13.0" height="13.0" fill="#F2AC3B"/>
<rect x="756.4" y="559.9" width="13.0" height="13.0" fill="#F2A93B"/>
<rect x="780.0" y="559.9" width="13.0" height="13.0" fill="#F2A83B"/>
<rect x="803.7" y="559.9" width="13.0" height="13.0" fill="#F2A73B"/>
<rect x="295.4" y="582.0" width="13.0" height="13.0" fill="#F2A53B"/>
<rect x="319.0" y="582.0" width="13.0" height="13.0" fill="#F2A73B"/>
<rect x="342.7" y="582.0" width="13.0" height="13.0" fill="#F2A83B"/>
<rect x="366.3" y="582.0" width="13.0" height="13.0" fill="#F2A93B"/>
<rect x="389.9" y="582.0" width="13.0" height="13.0" fill="#F2AB3B"/>
<rect x="413.6" y="582.0" width="13.0" height="13.0" fill="#F2AD3B"/>
<rect x="437.2" y="582.0" width="13.0" height="13.0" fill="#F2B13C"/>
<rect x="460.9" y="583.0" width="13.0" height="13.0" fill="#F2B53C"/>
<rect x="484.5" y="583.0" width="13.0" height="13.0" fill="#F2BB3D"/>
<rect x="508.1" y="583.0" width="13.0" height="13.0" fill="#F1C23E"/>
<rect x="531.8" y="583.0" width="13.0" height="13.0" fill="#F1C63F"/>
<rect x="555.4" y="583.0" width="13.0" height="13.0" fill="#F1C83F"/>
<rect x="579.1" y="583.0" width="13.0" height="13.0" fill="#F1C63F"/>
<rect x="602.7" y="583.0" width="13.0" height="13.0" fill="#F1C23E"/>
<rect x="626.4" y="583.0" width="13.0" height="13.0" fill="#F2BB3D"/>
<rect x="650.0" y="583.0" width="13.0" height="13.0" fill="#F2B53C"/>
<rect x="673.6" y="582.0" width="13.0" height="13.0" fill="#F2B13C"/>
<rect x="697.3" y="582.0" width="13.0" height="13.0" fill="#F2AD3B"/>
<rect x="720.9" y="582.0" width="13.0" height="13.0" fill="#F2AB3B"/>
<rect x="744.5" y="582.0" width="13.0" height="13.0" fill="#F2A93B"/>
<rect x="768.2" y="582.0" width="13.0" height="13.0" fill="#F2A83B"/>
<rect x="791.8" y="582.0" width="13.0" height="13.0" fill="#F2A73B"/>
<rect x="815.5" y="582.0" width="13.0" height="13.0" fill="#F2A53B"/>
<rect x="307.2" y="601.8" width="13.0" height="13.0" fill="#F2A53B"/>
<rect x="330.9" y="601.8" width="13.0" height="13.0" fill="#F2A73B"/>
<rect x="354.5" y="601.8" width="13.0" height="13.0" fill="#F2A83B"/>
<rect x="378.1" y="601.8" width="13.0" height="13.0" fill="#F2A93B"/>
<rect x="401.8" y="601.8" width="13.0" height="13.0" fill="#F2AB3B"/>
<rect x="425.4" y="601.8" width="13.0" height="13.0" fill="#F2AD3B"/>
<rect x="449.1" y="603.5" width="13.0" height="13.0" fill="#F2AF3B"/>
<rect x="472.7" y="603.5" width="13.0" height="13.0" fill="#F2B23C"/>
<rect x="496.3" y="603.5" width="13.0" height="13.0" fill="#F2B53C"/>
<rect x="520.0" y="603.5" width="13.0" height="13.0" fill="#F2B93D"/>
<rect x="543.6" y="603.5" width="13.0" height="13.0" fill="#F2BA3D"/>
<rect x="567.2" y="603.5" width="13.0" height="13.0" fill="#F2BA3D"/>
<rect x="590.9" y="603.5" width="13.0" height="13.0" fill="#F2B93D"/>
<rect x="614.5" y="603.5" width="13.0" height="13.0" fill="#F2B53C"/>
<rect x="638.2" y="603.5" width="13.0" height="13.0" fill="#F2B23C"/>
<rect x="661.8" y="603.5" width="13.0" height="13.0" fill="#F2AF3B"/>
<rect x="685.5" y="601.8" width="13.0" height="13.0" fill="#F2AD3B"/>
<rect x="709.1" y="601.8" width="13.0" height="13.0" fill="#F2AB3B"/>
<rect x="732.7" y="601.8" width="13.0" height="13.0" fill="#F2A93B"/>
<rect x="756.4" y="601.8" width="13.0" height="13.0" fill="#F2A83B"/>
<rect x="780.0" y="601.8" width="13.0" height="13.0" fill="#F2A73B"/>
<rect x="803.7" y="601.8" width="13.0" height="13.0" fill="#F2A53B"/>
<rect x="319.0" y="622.2" width="13.0" height="13.0" fill="#F2A53B"/>
<rect x="342.7" y="622.2" width="13.0" height="13.0" fill="#F2A73B"/>
<rect x="366.3" y="622.2" width="13.0" height="13.0" fill="#F2A83B"/>
<rect x="389.9" y="622.2" width="13.0" height="13.0" fill="#F2A93B"/>
<rect x="413.6" y="622.2" width="13.0" height="13.0" fill="#F2AA3B"/>
<rect x="437.2" y="622.2" width="13.0" height="13.0" fill="#F2AC3B"/>
<rect x="460.9" y="624.0" width="13.0" height="13.0" fill="#F2AD3B"/>
<rect x="484.5" y="624.0" width="13.0" height="13.0" fill="#F2AF3B"/>
<rect x="508.1" y="624.0" width="13.0" height="13.0" fill="#F2B13C"/>
<rect x="531.8" y="624.0" width="13.0" height="13.0" fill="#F2B23C"/>
<rect x="555.4" y="624.0" width="13.0" height="13.0" fill="#F2B33C"/>
<rect x="579.1" y="624.0" width="13.0" height="13.0" fill="#F2B23C"/>
<rect x="602.7" y="624.0" width="13.0" height="13.0" fill="#F2B13C"/>
<rect x="626.4" y="624.0" width="13.0" height="13.0" fill="#F2AF3B"/>
<rect x="650.0" y="624.0" width="13.0" height="13.0" fill="#F2AD3B"/>
<rect x="673.6" y="622.2" width="13.0" height="13.0" fill="#F2AC3B"/>
<rect x="697.3" y="622.2" width="13.0" height="13.0" fill="#F2AB3B"/>
<rect x="720.9" y="622.2" width="13.0" height="13.0" fill="#F2A93B"/>
<rect x="744.5" y="622.2" width="13.0" height="13.0" fill="#F2A83B"/>
<rect x="768.2" y="622.2" width="13.0" height="13.0" fill="#F2A73B"/>
<rect x="791.8" y="622.2" width="13.0" height="13.0" fill="#F2A53B"/>
<rect x="330.9" y="645.8" width="13.0" height="13.0" fill="#F2A53B"/>
<rect x="354.5" y="645.8" width="13.0" height="13.0" fill="#F2A63B"/>
<rect x="378.1" y="645.8" width="13.0" height="13.0" fill="#F2A73B"/>
<rect x="401.8" y="645.8" width="13.0" height="13.0" fill="#F2A83B"/>
<rect x="425.4" y="645.8" width="13.0" height="13.0" fill="#F2A93B"/>
<rect x="449.1" y="645.8" width="13.0" height="13.0" fill="#F2AB3B"/>
<rect x="472.7" y="645.8" width="13.0" height="13.0" fill="#F2AC3B"/>
<rect x="496.3" y="645.8" width="13.0" height="13.0" fill="#F2AD3B"/>
<rect x="520.0" y="645.8" width="13.0" height="13.0" fill="#F2AD3B"/>
<rect x="543.6" y="645.8" width="13.0" height="13.0" fill="#F2AE3B"/>
<rect x="567.2" y="645.8" width="13.0" height="13.0" fill="#F2AE3B"/>
<rect x="590.9" y="645.8" width="13.0" height="13.0" fill="#F2AD3B"/>
<rect x="614.5" y="645.8" width="13.0" height="13.0" fill="#F2AD3B"/>
<rect x="638.2" y="645.8" width="13.0" height="13.0" fill="#F2AC3B"/>
<rect x="661.8" y="645.8" width="13.0" height="13.0" fill="#F2AB3B"/>
<rect x="685.5" y="645.8" width="13.0" height="13.0" fill="#F2A93B"/>
<rect x="709.1" y="645.8" width="13.0" height="13.0" fill="#F2A83B"/>
<rect x="732.7" y="645.8" width="13.0" height="13.0" fill="#F2A73B"/>
<rect x="756.4" y="645.8" width="13.0" height="13.0" fill="#F2A63B"/>
<rect x="780.0" y="645.8" width="13.0" height="13.0" fill="#F2A53B"/>
<rect x="342.7" y="666.0" width="13.0" height="13.0" fill="#F2A53A"/>
<rect x="366.3" y="666.0" width="13.0" height="13.0" fill="#F2A63B"/>
<rect x="389.9" y="666.0" width="13.0" height="13.0" fill="#F2A73B"/>
<rect x="413.6" y="666.0" width="13.0" height="13.0" fill="#F2A83B"/>
<rect x="437.2" y="666.0" width="13.0" height="13.0" fill="#F2A93B"/>
<rect x="460.9" y="666.0" width="13.0" height="13.0" fill="#F2A93B"/>
<rect x="484.5" y="666.0" width="13.0" height="13.0" fill="#F2AA3B"/>
<rect x="508.1" y="666.0" width="13.0" height="13.0" fill="#F2AB3B"/>
<rect x="531.8" y="666.0" width="13.0" height="13.0" fill="#F2AB3B"/>
<rect x="555.4" y="666.0" width="13.0" height="13.0" fill="#F2AC3B"/>
<rect x="579.1" y="666.0" width="13.0" height="13.0" fill="#F2AB3B"/>
<rect x="602.7" y="666.0" width="13.0" height="13.0" fill="#F2AB3B"/>
<rect x="626.4" y="666.0" width="13.0" height="13.0" fill="#F2AA3B"/>
<rect x="650.0" y="666.0" width="13.0" height="13.0" fill="#F2A93B"/>
<rect x="673.6" y="666.0" width="13.0" height="13.0" fill="#F2A93B"/>
<rect x="697.3" y="666.0" width="13.0" height="13.0" fill="#F2A83B"/>
<rect x="720.9" y="666.0" width="13.0" height="13.0" fill="#F2A73B"/>
<rect x="744.5" y="666.0" width="13.0" height="13.0" fill="#F2A63B"/>
<rect x="354.5" y="687.2" width="13.0" height="13.0" fill="#F2A43A"/>
<rect x="378.1" y="687.2" width="13.0" height="13.0" fill="#F2A53B"/>
<rect x="401.8" y="687.2" width="13.0" height="13.0" fill="#F2A63B"/>
<rect x="425.4" y="687.2" width="13.0" height="13.0" fill="#F2A73B"/>
<rect x="449.1" y="687.2" width="13.0" height="13.0" fill="#F2A83B"/>
<rect x="472.7" y="687.2" width="13.0" height="13.0" fill="#F2A83B"/>
<rect x="496.3" y="687.2" width="13.0" height="13.0" fill="#F2A93B"/>
<rect x="520.0" y="687.2" width="13.0" height="13.0" fill="#F2A93B"/>
<rect x="543.6" y="687.2" width="13.0" height="13.0" fill="#F2A93B"/>
<rect x="567.2" y="687.2" width="13.0" height="13.0" fill="#F2A93B"/>
<rect x="590.9" y="687.2" width="13.0" height="13.0" fill="#F2A93B"/>
<rect x="614.5" y="687.2" width="13.0" height="13.0" fill="#F2A93B"/>
<rect x="638.2" y="687.2" width="13.0" height="13.0" fill="#F2A83B"/>
<rect x="661.8" y="687.2" width="13.0" height="13.0" fill="#F2A83B"/>
<rect x="685.5" y="687.2" width="13.0" height="13.0" fill="#F2A73B"/>
<rect x="709.1" y="687.2" width="13.0" height="13.0" fill="#F2A63B"/>
<rect x="732.7" y="687.2" width="13.0" height="13.0" fill="#F2A53B"/>
<rect x="389.9" y="708.0" width="13.0" height="13.0" fill="#F2A53A"/>
<rect x="413.6" y="708.0" width="13.0" height="13.0" fill="#F2A63B"/>
<rect x="437.2" y="708.0" width="13.0" height="13.0" fill="#F2A63B"/>
<rect x="460.9" y="708.0" width="13.0" height="13.0" fill="#F2A73B"/>
<rect x="484.5" y="708.0" width="13.0" height="13.0" fill="#F2A73B"/>
<rect x="508.1" y="708.0" width="13.0" height="13.0" fill="#F2A83B"/>
<rect x="531.8" y="708.0" width="13.0" height="13.0" fill="#F2A83B"/>
<rect x="555.4" y="708.0" width="13.0" height="13.0" fill="#F2A83B"/>
<rect x="579.1" y="708.0" width="13.0" height="13.0" fill="#F2A83B"/>
<rect x="602.7" y="708.0" width="13.0" height="13.0" fill="#F2A83B"/>
<rect x="626.4" y="708.0" width="13.0" height="13.0" fill="#F2A73B"/>
<rect x="650.0" y="708.0" width="13.0" height="13.0" fill="#F2A73B"/>
<rect x="673.6" y="708.0" width="13.0" height="13.0" fill="#F2A63B"/>
<rect x="697.3" y="708.0" width="13.0" height="13.0" fill="#F2A63B"/>
<rect x="425.4" y="729.9" width="13.0" height="13.0" fill="#F2A53A"/>
<rect x="449.1" y="729.9" width="13.0" height="13.0" fill="#F2A53B"/>
<rect x="472.7" y="729.9" width="13.0" height="13.0" fill="#F2A63B"/>
<rect x="496.3" y="729.9" width="13.0" height="13.0" fill="#F2A63B"/>
<rect x="520.0" y="729.9" width="13.0" height="13.0" fill="#F2A63B"/>
<rect x="543.6" y="729.9" width="13.0" height="13.0" fill="#F2A73B"/>
<rect x="567.2" y="729.9" width="13.0" height="13.0" fill="#F2A73B"/>
<rect x="590.9" y="729.9" width="13.0" height="13.0" fill="#F2A63B"/>
<rect x="614.5" y="729.9" width="13.0" height="13.0" fill="#F2A63B"/>
<rect x="638.2" y="729.9" width="13.0" height="13.0" fill="#F2A63B"/>
<rect x="661.8" y="729.9" width="13.0" height="13.0" fill="#F2A53B"/>
<rect x="685.5" y="729.9" width="13.0" height="13.0" fill="#F2A53A"/>
<rect x="460.9" y="750.4" width="13.0" height="13.0" fill="#F2A43A"/>
<rect x="484.5" y="750.4" width="13.0" height="13.0" fill="#F2A53A"/>
<rect x="508.1" y="750.4" width="13.0" height="13.0" fill="#F2A53B"/>
<rect x="531.8" y="750.4" width="13.0" height="13.0" fill="#F2A53B"/>
<rect x="555.4" y="750.4" width="13.0" height="13.0" fill="#F2A53B"/>
<rect x="579.1" y="750.4" width="13.0" height="13.0" fill="#F2A53B"/>
<rect x="602.7" y="750.4" width="13.0" height="13.0" fill="#F2A53B"/>
<rect x="626.4" y="750.4" width="13.0" height="13.0" fill="#F2A53A"/>
<line x1="413" y1="156.4" x2="560.8" y2="475" stroke="#111" stroke-width="2.2"/>
<polygon points="560.4,461.3 547.8,482.3 572.6,482.3" fill="#A4A4A4"/>
<line x1="540" y1="432" x2="560.8" y2="475" stroke="#111" stroke-width="2.2"/>
<defs><linearGradient id="cb" x1="0" y1="0" x2="0" y2="1"><stop offset="0.0000" stop-color="#D63A2C"/><stop offset="0.0500" stop-color="#E23C2E"/><stop offset="0.1087" stop-color="#E8502F"/><stop offset="0.1568" stop-color="#EC6A32"/><stop offset="0.2043" stop-color="#EF8436"/><stop offset="0.2528" stop-color="#F2A03A"/><stop offset="0.2848" stop-color="#F2B43C"/><stop offset="0.3167" stop-color="#F0D040"/><stop offset="0.3425" stop-color="#EEE540"/><stop offset="0.3650" stop-color="#D0DC48"/><stop offset="0.3967" stop-color="#B0D048"/><stop offset="0.4445" stop-color="#90C040"/><stop offset="0.4885" stop-color="#7AB83A"/><stop offset="0.5150" stop-color="#76B83A"/><stop offset="0.5393" stop-color="#70B060"/><stop offset="0.5740" stop-color="#68B090"/><stop offset="0.6150" stop-color="#5CB4B8"/><stop offset="0.6490" stop-color="#58B8D0"/><stop offset="0.6763" stop-color="#50B8E0"/><stop offset="0.7100" stop-color="#4C90D0"/><stop offset="0.7440" stop-color="#4C78B8"/><stop offset="0.7787" stop-color="#4C68B0"/><stop offset="0.8300" stop-color="#4A58A8"/><stop offset="0.8975" stop-color="#47489A"/><stop offset="0.9650" stop-color="#44378A"/><stop offset="1.0000" stop-color="#423080"/></linearGradient></defs>
<rect x="904.2" y="182" width="33.6" height="590.6" fill="url(#cb)" stroke="#2a1c14" stroke-width="1.5"/>
<line x1="195.6" y1="1002.3" x2="195.6" y2="1573.8" stroke="#aaa" stroke-width="1.2"/>
<line x1="195.2" y1="1003.7" x2="213.4" y2="1003.7" stroke="#333" stroke-width="2.6"/>
<line x1="195.2" y1="1289.9" x2="213.4" y2="1289.9" stroke="#333" stroke-width="2.6"/>
<line x1="195.2" y1="1432.2" x2="213.4" y2="1432.2" stroke="#333" stroke-width="2.6"/>
<line x1="195.2" y1="1572.6" x2="213.4" y2="1572.6" stroke="#333" stroke-width="2.6"/>
<rect x="463.3" y="1147.3" width="11.0" height="11.0" fill="#F2A43A"/>
<rect x="354.8" y="1147.4" width="11.0" height="11.0" fill="#F2A43A"/>
<rect x="415.1" y="1147.5" width="11.0" height="11.0" fill="#F2A43A"/>
<rect x="318.6" y="1147.6" width="11.0" height="11.0" fill="#F2A53A"/>
<rect x="258.3" y="1147.6" width="11.0" height="11.0" fill="#F2A53A"/>
<rect x="282.4" y="1147.6" width="11.0" height="11.0" fill="#F2A53A"/>
<rect x="475.3" y="1147.7" width="11.0" height="11.0" fill="#F2A53A"/>
<rect x="644.1" y="1147.7" width="11.0" height="11.0" fill="#F2A53A"/>
<rect x="306.6" y="1147.7" width="11.0" height="11.0" fill="#F2A53A"/>
<rect x="427.1" y="1147.7" width="11.0" height="11.0" fill="#F2A53A"/>
<rect x="692.4" y="1147.7" width="11.0" height="11.0" fill="#F2A53A"/>
<rect x="294.5" y="1147.8" width="11.0" height="11.0" fill="#F2A53A"/>
<rect x="391.0" y="1147.8" width="11.0" height="11.0" fill="#F2A53A"/>
<rect x="487.4" y="1147.8" width="11.0" height="11.0" fill="#F2A53A"/>
<rect x="632.1" y="1147.8" width="11.0" height="11.0" fill="#F2A53A"/>
<rect x="270.4" y="1147.8" width="11.0" height="11.0" fill="#F2A53A"/>
<rect x="342.7" y="1147.9" width="11.0" height="11.0" fill="#F2A53A"/>
<rect x="499.5" y="1148.1" width="11.0" height="11.0" fill="#F2A53A"/>
<rect x="366.8" y="1148.1" width="11.0" height="11.0" fill="#F2A53B"/>
<rect x="620.0" y="1148.1" width="11.0" height="11.0" fill="#F2A53B"/>
<rect x="752.6" y="1148.1" width="11.0" height="11.0" fill="#F2A53B"/>
<rect x="270.4" y="1148.1" width="11.0" height="11.0" fill="#F2A53B"/>
<rect x="511.5" y="1148.1" width="11.0" height="11.0" fill="#F2A53B"/>
<rect x="608.0" y="1148.1" width="11.0" height="11.0" fill="#F2A53B"/>
<rect x="330.7" y="1148.2" width="11.0" height="11.0" fill="#F2A53B"/>
<rect x="282.4" y="1148.2" width="11.0" height="11.0" fill="#F2A53B"/>
<rect x="788.8" y="1148.2" width="11.0" height="11.0" fill="#F2A53B"/>
<rect x="439.2" y="1148.3" width="11.0" height="11.0" fill="#F2A53B"/>
<rect x="680.3" y="1148.3" width="11.0" height="11.0" fill="#F2A53B"/>
<rect x="270.4" y="1148.3" width="11.0" height="11.0" fill="#F2A53B"/>
<rect x="535.6" y="1148.4" width="11.0" height="11.0" fill="#F2A53B"/>
<rect x="583.9" y="1148.4" width="11.0" height="11.0" fill="#F2A53B"/>
<rect x="403.0" y="1148.4" width="11.0" height="11.0" fill="#F2A53B"/>
<rect x="716.5" y="1148.4" width="11.0" height="11.0" fill="#F2A53B"/>
<rect x="523.6" y="1148.4" width="11.0" height="11.0" fill="#F2A53B"/>
<rect x="595.9" y="1148.4" width="11.0" height="11.0" fill="#F2A53B"/>
<rect x="294.5" y="1148.4" width="11.0" height="11.0" fill="#F2A53B"/>
<rect x="825.0" y="1148.4" width="11.0" height="11.0" fill="#F2A53B"/>
<rect x="451.2" y="1148.4" width="11.0" height="11.0" fill="#F2A53B"/>
<rect x="668.2" y="1148.4" width="11.0" height="11.0" fill="#F2A53B"/>
<rect x="559.7" y="1148.4" width="11.0" height="11.0" fill="#F2A53B"/>
<rect x="270.4" y="1148.5" width="11.0" height="11.0" fill="#F2A53B"/>
<rect x="378.9" y="1148.5" width="11.0" height="11.0" fill="#F2A53B"/>
<rect x="740.6" y="1148.5" width="11.0" height="11.0" fill="#F2A53B"/>
<rect x="318.6" y="1148.5" width="11.0" height="11.0" fill="#F2A53B"/>
<rect x="800.9" y="1148.5" width="11.0" height="11.0" fill="#F2A53B"/>
<rect x="306.6" y="1148.5" width="11.0" height="11.0" fill="#F2A53B"/>
<rect x="547.7" y="1148.5" width="11.0" height="11.0" fill="#F2A53B"/>
<rect x="571.8" y="1148.5" width="11.0" height="11.0" fill="#F2A53B"/>
<rect x="812.9" y="1148.5" width="11.0" height="11.0" fill="#F2A53B"/>
<rect x="354.8" y="1148.6" width="11.0" height="11.0" fill="#F2A53B"/>
<rect x="764.7" y="1148.6" width="11.0" height="11.0" fill="#F2A53B"/>
<rect x="282.4" y="1148.6" width="11.0" height="11.0" fill="#F2A53B"/>
<rect x="837.0" y="1148.6" width="11.0" height="11.0" fill="#F2A53B"/>
<rect x="415.1" y="1148.7" width="11.0" height="11.0" fill="#F2A63B"/>
<rect x="704.4" y="1148.7" width="11.0" height="11.0" fill="#F2A63B"/>
<rect x="463.3" y="1148.9" width="11.0" height="11.0" fill="#F2A63B"/>
<rect x="656.2" y="1148.9" width="11.0" height="11.0" fill="#F2A63B"/>
<rect x="342.7" y="1148.9" width="11.0" height="11.0" fill="#F2A63B"/>
<rect x="776.8" y="1148.9" width="11.0" height="11.0" fill="#F2A63B"/>
<rect x="282.4" y="1149.0" width="11.0" height="11.0" fill="#F2A63B"/>
<rect x="837.0" y="1149.0" width="11.0" height="11.0" fill="#F2A63B"/>
<rect x="475.3" y="1149.0" width="11.0" height="11.0" fill="#F2A63B"/>
<rect x="644.1" y="1149.0" width="11.0" height="11.0" fill="#F2A63B"/>
<rect x="294.5" y="1149.0" width="11.0" height="11.0" fill="#F2A63B"/>
<rect x="825.0" y="1149.0" width="11.0" height="11.0" fill="#F2A63B"/>
<rect x="366.8" y="1149.1" width="11.0" height="11.0" fill="#F2A63B"/>
<rect x="752.6" y="1149.1" width="11.0" height="11.0" fill="#F2A63B"/>
<rect x="330.7" y="1149.1" width="11.0" height="11.0" fill="#F2A63B"/>
<rect x="788.8" y="1149.1" width="11.0" height="11.0" fill="#F2A63B"/>
<rect x="391.0" y="1149.2" width="11.0" height="11.0" fill="#F2A63B"/>
<rect x="306.6" y="1149.2" width="11.0" height="11.0" fill="#F2A63B"/>
<rect x="728.5" y="1149.2" width="11.0" height="11.0" fill="#F2A63B"/>
<rect x="812.9" y="1149.2" width="11.0" height="11.0" fill="#F2A63B"/>
<rect x="282.4" y="1149.2" width="11.0" height="11.0" fill="#F2A63B"/>
<rect x="837.0" y="1149.2" width="11.0" height="11.0" fill="#F2A63B"/>
<rect x="427.1" y="1149.2" width="11.0" height="11.0" fill="#F2A63B"/>
<rect x="692.4" y="1149.2" width="11.0" height="11.0" fill="#F2A63B"/>
<rect x="318.6" y="1149.2" width="11.0" height="11.0" fill="#F2A63B"/>
<rect x="800.9" y="1149.3" width="11.0" height="11.0" fill="#F2A63B"/>
<rect x="282.4" y="1149.3" width="11.0" height="11.0" fill="#F2A63B"/>
<rect x="837.0" y="1149.3" width="11.0" height="11.0" fill="#F2A63B"/>
<rect x="487.4" y="1149.4" width="11.0" height="11.0" fill="#F2A63B"/>
<rect x="499.5" y="1149.4" width="11.0" height="11.0" fill="#F2A63B"/>
<rect x="632.1" y="1149.4" width="11.0" height="11.0" fill="#F2A63B"/>
<rect x="620.0" y="1149.4" width="11.0" height="11.0" fill="#F2A63B"/>
<rect x="294.5" y="1149.4" width="11.0" height="11.0" fill="#F2A63B"/>
<rect x="825.0" y="1149.4" width="11.0" height="11.0" fill="#F2A63B"/>
<rect x="354.8" y="1149.5" width="11.0" height="11.0" fill="#F2A63B"/>
<rect x="764.7" y="1149.5" width="11.0" height="11.0" fill="#F2A63B"/>
<rect x="403.0" y="1149.5" width="11.0" height="11.0" fill="#F2A63B"/>
<rect x="439.2" y="1149.5" width="11.0" height="11.0" fill="#F2A63B"/>
<rect x="716.5" y="1149.5" width="11.0" height="11.0" fill="#F2A63B"/>
<rect x="680.3" y="1149.5" width="11.0" height="11.0" fill="#F2A63B"/>
<rect x="523.6" y="1149.7" width="11.0" height="11.0" fill="#F2A63B"/>
<rect x="595.9" y="1149.7" width="11.0" height="11.0" fill="#F2A63B"/>
<rect x="378.9" y="1149.7" width="11.0" height="11.0" fill="#F2A73B"/>
<rect x="740.6" y="1149.7" width="11.0" height="11.0" fill="#F2A73B"/>
<rect x="306.6" y="1149.8" width="11.0" height="11.0" fill="#F2A73B"/>
<rect x="294.5" y="1149.8" width="11.0" height="11.0" fill="#F2A73B"/>
<rect x="812.9" y="1149.8" width="11.0" height="11.0" fill="#F2A73B"/>
<rect x="511.5" y="1149.8" width="11.0" height="11.0" fill="#F2A73B"/>
<rect x="825.0" y="1149.8" width="11.0" height="11.0" fill="#F2A73B"/>
<rect x="608.0" y="1149.8" width="11.0" height="11.0" fill="#F2A73B"/>
<rect x="547.7" y="1149.9" width="11.0" height="11.0" fill="#F2A73B"/>
<rect x="571.8" y="1149.9" width="11.0" height="11.0" fill="#F2A73B"/>
<rect x="342.7" y="1149.9" width="11.0" height="11.0" fill="#F2A73B"/>
<rect x="776.8" y="1149.9" width="11.0" height="11.0" fill="#F2A73B"/>
<rect x="318.6" y="1149.9" width="11.0" height="11.0" fill="#F2A73B"/>
<rect x="800.9" y="1149.9" width="11.0" height="11.0" fill="#F2A73B"/>
<rect x="451.2" y="1150.0" width="11.0" height="11.0" fill="#F2A73B"/>
<rect x="668.2" y="1150.0" width="11.0" height="11.0" fill="#F2A73B"/>
<rect x="330.7" y="1150.0" width="11.0" height="11.0" fill="#F2A73B"/>
<rect x="788.8" y="1150.0" width="11.0" height="11.0" fill="#F2A73B"/>
<rect x="535.6" y="1150.0" width="11.0" height="11.0" fill="#F2A73B"/>
<rect x="583.9" y="1150.0" width="11.0" height="11.0" fill="#F2A73B"/>
<rect x="294.5" y="1150.0" width="11.0" height="11.0" fill="#F2A73B"/>
<rect x="825.0" y="1150.0" width="11.0" height="11.0" fill="#F2A73B"/>
<rect x="559.7" y="1150.1" width="11.0" height="11.0" fill="#F2A73B"/>
<rect x="294.5" y="1150.1" width="11.0" height="11.0" fill="#F2A73B"/>
<rect x="415.1" y="1150.1" width="11.0" height="11.0" fill="#F2A73B"/>
<rect x="704.4" y="1150.1" width="11.0" height="11.0" fill="#F2A73B"/>
<rect x="825.0" y="1150.1" width="11.0" height="11.0" fill="#F2A73B"/>
<rect x="463.3" y="1150.2" width="11.0" height="11.0" fill="#F2A73B"/>
<rect x="656.2" y="1150.2" width="11.0" height="11.0" fill="#F2A73B"/>
<rect x="366.8" y="1150.2" width="11.0" height="11.0" fill="#F2A73B"/>
<rect x="391.0" y="1150.2" width="11.0" height="11.0" fill="#F2A73B"/>
<rect x="752.6" y="1150.2" width="11.0" height="11.0" fill="#F2A73B"/>
<rect x="728.5" y="1150.2" width="11.0" height="11.0" fill="#F2A73B"/>
<rect x="306.6" y="1150.2" width="11.0" height="11.0" fill="#F2A73B"/>
<rect x="812.9" y="1150.3" width="11.0" height="11.0" fill="#F2A73B"/>
<rect x="427.1" y="1150.4" width="11.0" height="11.0" fill="#F2A73B"/>
<rect x="692.4" y="1150.4" width="11.0" height="11.0" fill="#F2A73B"/>
<rect x="354.8" y="1150.5" width="11.0" height="11.0" fill="#F2A73B"/>
<rect x="764.7" y="1150.5" width="11.0" height="11.0" fill="#F2A73B"/>
<rect x="318.6" y="1150.6" width="11.0" height="11.0" fill="#F2A73B"/>
<rect x="800.9" y="1150.6" width="11.0" height="11.0" fill="#F2A73B"/>
<rect x="475.3" y="1150.6" width="11.0" height="11.0" fill="#F2A73B"/>
<rect x="644.1" y="1150.6" width="11.0" height="11.0" fill="#F2A73B"/>
<rect x="306.6" y="1150.6" width="11.0" height="11.0" fill="#F2A73B"/>
<rect x="812.9" y="1150.6" width="11.0" height="11.0" fill="#F2A73B"/>
<rect x="342.7" y="1150.7" width="11.0" height="11.0" fill="#F2A73B"/>
<rect x="330.7" y="1150.7" width="11.0" height="11.0" fill="#F2A73B"/>
<rect x="378.9" y="1150.7" width="11.0" height="11.0" fill="#F2A73B"/>
<rect x="776.8" y="1150.7" width="11.0" height="11.0" fill="#F2A73B"/>
<rect x="788.8" y="1150.7" width="11.0" height="11.0" fill="#F2A73B"/>
<rect x="740.6" y="1150.7" width="11.0" height="11.0" fill="#F2A73B"/>
<rect x="487.4" y="1150.7" width="11.0" height="11.0" fill="#F2A73B"/>
<rect x="632.1" y="1150.7" width="11.0" height="11.0" fill="#F2A73B"/>
<rect x="403.0" y="1150.8" width="11.0" height="11.0" fill="#F2A83B"/>
<rect x="716.5" y="1150.8" width="11.0" height="11.0" fill="#F2A83B"/>
<rect x="306.6" y="1150.9" width="11.0" height="11.0" fill="#F2A83B"/>
<rect x="812.9" y="1150.9" width="11.0" height="11.0" fill="#F2A83B"/>
<rect x="306.6" y="1151.0" width="11.0" height="11.0" fill="#F2A83B"/>
<rect x="812.9" y="1151.0" width="11.0" height="11.0" fill="#F2A83B"/>
<rect x="439.2" y="1151.0" width="11.0" height="11.0" fill="#F2A83B"/>
<rect x="680.3" y="1151.0" width="11.0" height="11.0" fill="#F2A83B"/>
<rect x="318.6" y="1151.0" width="11.0" height="11.0" fill="#F2A83B"/>
<rect x="800.9" y="1151.1" width="11.0" height="11.0" fill="#F2A83B"/>
<rect x="499.5" y="1151.1" width="11.0" height="11.0" fill="#F2A83B"/>
<rect x="620.0" y="1151.1" width="11.0" height="11.0" fill="#F2A83B"/>
<rect x="511.5" y="1151.1" width="11.0" height="11.0" fill="#F2A83B"/>
<rect x="608.0" y="1151.1" width="11.0" height="11.0" fill="#F2A83B"/>
<rect x="451.2" y="1151.2" width="11.0" height="11.0" fill="#F2A83B"/>
<rect x="668.2" y="1151.2" width="11.0" height="11.0" fill="#F2A83B"/>
<rect x="366.8" y="1151.2" width="11.0" height="11.0" fill="#F2A83B"/>
<rect x="415.1" y="1151.2" width="11.0" height="11.0" fill="#F2A83B"/>
<rect x="752.6" y="1151.2" width="11.0" height="11.0" fill="#F2A83B"/>
<rect x="704.4" y="1151.2" width="11.0" height="11.0" fill="#F2A83B"/>
<rect x="330.7" y="1151.3" width="11.0" height="11.0" fill="#F2A83B"/>
<rect x="788.8" y="1151.3" width="11.0" height="11.0" fill="#F2A83B"/>
<rect x="535.6" y="1151.4" width="11.0" height="11.0" fill="#F2A83B"/>
<rect x="583.9" y="1151.4" width="11.0" height="11.0" fill="#F2A83B"/>
<rect x="391.0" y="1151.4" width="11.0" height="11.0" fill="#F2A83B"/>
<rect x="728.5" y="1151.4" width="11.0" height="11.0" fill="#F2A83B"/>
<rect x="523.6" y="1151.4" width="11.0" height="11.0" fill="#F2A83B"/>
<rect x="595.9" y="1151.4" width="11.0" height="11.0" fill="#F2A83B"/>
<rect x="354.8" y="1151.4" width="11.0" height="11.0" fill="#F2A83B"/>
<rect x="764.7" y="1151.4" width="11.0" height="11.0" fill="#F2A83B"/>
<rect x="342.7" y="1151.4" width="11.0" height="11.0" fill="#F2A83B"/>
<rect x="318.6" y="1151.4" width="11.0" height="11.0" fill="#F2A83B"/>
<rect x="776.8" y="1151.4" width="11.0" height="11.0" fill="#F2A83B"/>
<rect x="800.9" y="1151.4" width="11.0" height="11.0" fill="#F2A83B"/>
<rect x="559.7" y="1151.4" width="11.0" height="11.0" fill="#F2A83B"/>
<rect x="547.7" y="1151.6" width="11.0" height="11.0" fill="#F2A83B"/>
<rect x="571.8" y="1151.6" width="11.0" height="11.0" fill="#F2A83B"/>
<rect x="318.6" y="1151.7" width="11.0" height="11.0" fill="#F2A83B"/>
<rect x="800.9" y="1151.7" width="11.0" height="11.0" fill="#F2A83B"/>
<rect x="463.3" y="1151.7" width="11.0" height="11.0" fill="#F2A83B"/>
<rect x="656.2" y="1151.7" width="11.0" height="11.0" fill="#F2A83B"/>
<rect x="378.9" y="1151.8" width="11.0" height="11.0" fill="#F2A83B"/>
<rect x="740.6" y="1151.8" width="11.0" height="11.0" fill="#F2A83B"/>
<rect x="427.1" y="1151.8" width="11.0" height="11.0" fill="#F2A83B"/>
<rect x="692.4" y="1151.8" width="11.0" height="11.0" fill="#F2A83B"/>
<rect x="318.6" y="1151.8" width="11.0" height="11.0" fill="#F2A83B"/>
<rect x="403.0" y="1151.8" width="11.0" height="11.0" fill="#F2A83B"/>
<rect x="800.9" y="1151.8" width="11.0" height="11.0" fill="#F2A83B"/>
<rect x="716.5" y="1151.8" width="11.0" height="11.0" fill="#F2A83B"/>
<rect x="330.7" y="1151.9" width="11.0" height="11.0" fill="#F2A83B"/>
<rect x="475.3" y="1151.9" width="11.0" height="11.0" fill="#F2A83B"/>
<rect x="788.8" y="1151.9" width="11.0" height="11.0" fill="#F2A83B"/>
<rect x="644.1" y="1151.9" width="11.0" height="11.0" fill="#F2A83B"/>
<rect x="366.8" y="1152.1" width="11.0" height="11.0" fill="#F2A93B"/>
<rect x="752.6" y="1152.1" width="11.0" height="11.0" fill="#F2A93B"/>
<rect x="342.7" y="1152.1" width="11.0" height="11.0" fill="#F2A93B"/>
<rect x="776.8" y="1152.1" width="11.0" height="11.0" fill="#F2A93B"/>
<rect x="439.2" y="1152.1" width="11.0" height="11.0" fill="#F2A93B"/>
<rect x="680.3" y="1152.1" width="11.0" height="11.0" fill="#F2A93B"/>
<rect x="354.8" y="1152.2" width="11.0" height="11.0" fill="#F2A93B"/>
<rect x="764.7" y="1152.2" width="11.0" height="11.0" fill="#F2A93B"/>
<rect x="330.7" y="1152.3" width="11.0" height="11.0" fill="#F2A93B"/>
<rect x="788.8" y="1152.3" width="11.0" height="11.0" fill="#F2A93B"/>
<rect x="487.4" y="1152.3" width="11.0" height="11.0" fill="#F2A93B"/>
<rect x="632.1" y="1152.3" width="11.0" height="11.0" fill="#F2A93B"/>
<rect x="499.5" y="1152.4" width="11.0" height="11.0" fill="#F2A93B"/>
<rect x="620.0" y="1152.4" width="11.0" height="11.0" fill="#F2A93B"/>
<rect x="391.0" y="1152.5" width="11.0" height="11.0" fill="#F2A93B"/>
<rect x="415.1" y="1152.5" width="11.0" height="11.0" fill="#F2A93B"/>
<rect x="704.4" y="1152.5" width="11.0" height="11.0" fill="#F2A93B"/>
<rect x="728.5" y="1152.5" width="11.0" height="11.0" fill="#F2A93B"/>
<rect x="330.7" y="1152.5" width="11.0" height="11.0" fill="#F2A93B"/>
<rect x="788.8" y="1152.5" width="11.0" height="11.0" fill="#F2A93B"/>
<rect x="342.7" y="1152.6" width="11.0" height="11.0" fill="#F2A93B"/>
<rect x="451.2" y="1152.7" width="11.0" height="11.0" fill="#F2A93B"/>
<rect x="668.2" y="1152.7" width="11.0" height="11.0" fill="#F2A93B"/>
<rect x="776.8" y="1152.7" width="11.0" height="11.0" fill="#F2A93B"/>
<rect x="330.7" y="1152.7" width="11.0" height="11.0" fill="#F2A93B"/>
<rect x="788.8" y="1152.7" width="11.0" height="11.0" fill="#F2A93B"/>
<rect x="523.6" y="1152.7" width="11.0" height="11.0" fill="#F2A93B"/>
<rect x="595.9" y="1152.7" width="11.0" height="11.0" fill="#F2A93B"/>
<rect x="378.9" y="1152.8" width="11.0" height="11.0" fill="#F2A93B"/>
<rect x="511.5" y="1152.8" width="11.0" height="11.0" fill="#F2A93B"/>
<rect x="740.6" y="1152.8" width="11.0" height="11.0" fill="#F2A93B"/>
<rect x="608.0" y="1152.8" width="11.0" height="11.0" fill="#F2A93B"/>
<rect x="427.1" y="1152.9" width="11.0" height="11.0" fill="#F2A93B"/>
<rect x="366.8" y="1152.9" width="11.0" height="11.0" fill="#F2A93B"/>
<rect x="354.8" y="1152.9" width="11.0" height="11.0" fill="#F2A93B"/>
<rect x="692.4" y="1152.9" width="11.0" height="11.0" fill="#F2A93B"/>
<rect x="752.6" y="1152.9" width="11.0" height="11.0" fill="#F2A93B"/>
<rect x="764.7" y="1152.9" width="11.0" height="11.0" fill="#F2A93B"/>
<rect x="547.7" y="1152.9" width="11.0" height="11.0" fill="#F2A93B"/>
<rect x="571.8" y="1152.9" width="11.0" height="11.0" fill="#F2A93B"/>
<rect x="463.3" y="1152.9" width="11.0" height="11.0" fill="#F2A93B"/>
<rect x="656.2" y="1152.9" width="11.0" height="11.0" fill="#F2A93B"/>
<rect x="403.0" y="1153.0" width="11.0" height="11.0" fill="#F2AA3B"/>
<rect x="716.5" y="1153.0" width="11.0" height="11.0" fill="#F2AA3B"/>
<rect x="535.6" y="1153.1" width="11.0" height="11.0" fill="#F2AA3B"/>
<rect x="583.9" y="1153.1" width="11.0" height="11.0" fill="#F2AA3B"/>
<rect x="342.7" y="1153.1" width="11.0" height="11.0" fill="#F2AA3B"/>
<rect x="776.8" y="1153.1" width="11.0" height="11.0" fill="#F2AA3B"/>
<rect x="559.7" y="1153.2" width="11.0" height="11.0" fill="#F2AA3B"/>
<rect x="342.7" y="1153.6" width="11.0" height="11.0" fill="#F2AA3B"/>
<rect x="776.8" y="1153.6" width="11.0" height="11.0" fill="#F2AA3B"/>
<rect x="475.3" y="1153.6" width="11.0" height="11.0" fill="#F2AA3B"/>
<rect x="644.1" y="1153.6" width="11.0" height="11.0" fill="#F2AA3B"/>
<rect x="391.0" y="1153.6" width="11.0" height="11.0" fill="#F2AA3B"/>
<rect x="728.5" y="1153.6" width="11.0" height="11.0" fill="#F2AA3B"/>
<rect x="354.8" y="1153.7" width="11.0" height="11.0" fill="#F2AA3B"/>
<rect x="764.7" y="1153.7" width="11.0" height="11.0" fill="#F2AA3B"/>
<rect x="439.2" y="1153.7" width="11.0" height="11.0" fill="#F2AA3B"/>
<rect x="680.3" y="1153.7" width="11.0" height="11.0" fill="#F2AA3B"/>
<rect x="342.7" y="1153.8" width="11.0" height="11.0" fill="#F2AA3B"/>
<rect x="776.8" y="1153.8" width="11.0" height="11.0" fill="#F2AA3B"/>
<rect x="487.4" y="1153.9" width="11.0" height="11.0" fill="#F2AA3B"/>
<rect x="632.1" y="1153.9" width="11.0" height="11.0" fill="#F2AA3B"/>
<rect x="378.9" y="1153.9" width="11.0" height="11.0" fill="#F2AA3B"/>
<rect x="740.6" y="1153.9" width="11.0" height="11.0" fill="#F2AA3B"/>
<rect x="366.8" y="1154.0" width="11.0" height="11.0" fill="#F2AA3B"/>
<rect x="415.1" y="1154.0" width="11.0" height="11.0" fill="#F2AA3B"/>
<rect x="752.6" y="1154.0" width="11.0" height="11.0" fill="#F2AB3B"/>
<rect x="704.4" y="1154.0" width="11.0" height="11.0" fill="#F2AB3B"/>
<rect x="451.2" y="1154.2" width="11.0" height="11.0" fill="#F2AB3B"/>
<rect x="668.2" y="1154.2" width="11.0" height="11.0" fill="#F2AB3B"/>
<rect x="354.8" y="1154.4" width="11.0" height="11.0" fill="#F2AB3B"/>
<rect x="764.7" y="1154.4" width="11.0" height="11.0" fill="#F2AB3B"/>
<rect x="499.5" y="1154.5" width="11.0" height="11.0" fill="#F2AB3B"/>
<rect x="620.0" y="1154.5" width="11.0" height="11.0" fill="#F2AB3B"/>
<rect x="511.5" y="1154.6" width="11.0" height="11.0" fill="#F2AB3B"/>
<rect x="608.0" y="1154.6" width="11.0" height="11.0" fill="#F2AB3B"/>
<rect x="403.0" y="1154.7" width="11.0" height="11.0" fill="#F2AB3B"/>
<rect x="716.5" y="1154.7" width="11.0" height="11.0" fill="#F2AB3B"/>
<rect x="427.1" y="1154.7" width="11.0" height="11.0" fill="#F2AB3B"/>
<rect x="692.4" y="1154.7" width="11.0" height="11.0" fill="#F2AB3B"/>
<rect x="354.8" y="1154.8" width="11.0" height="11.0" fill="#F2AB3B"/>
<rect x="764.7" y="1154.9" width="11.0" height="11.0" fill="#F2AB3B"/>
<rect x="366.8" y="1154.9" width="11.0" height="11.0" fill="#F2AB3B"/>
<rect x="752.6" y="1154.9" width="11.0" height="11.0" fill="#F2AB3B"/>
<rect x="391.0" y="1155.0" width="11.0" height="11.0" fill="#F2AB3B"/>
<rect x="728.5" y="1155.0" width="11.0" height="11.0" fill="#F2AB3B"/>
<rect x="523.6" y="1155.1" width="11.0" height="11.0" fill="#F2AB3B"/>
<rect x="595.9" y="1155.1" width="11.0" height="11.0" fill="#F2AB3B"/>
<rect x="463.3" y="1155.1" width="11.0" height="11.0" fill="#F2AB3B"/>
<rect x="535.6" y="1155.1" width="11.0" height="11.0" fill="#F2AB3B"/>
<rect x="583.9" y="1155.1" width="11.0" height="11.0" fill="#F2AB3B"/>
<rect x="656.2" y="1155.1" width="11.0" height="11.0" fill="#F2AB3B"/>
<rect x="354.8" y="1155.1" width="11.0" height="11.0" fill="#F2AC3B"/>
<rect x="764.7" y="1155.1" width="11.0" height="11.0" fill="#F2AC3B"/>
<rect x="378.9" y="1155.2" width="11.0" height="11.0" fill="#F2AC3B"/>
<rect x="740.6" y="1155.2" width="11.0" height="11.0" fill="#F2AC3B"/>
<rect x="559.7" y="1155.2" width="11.0" height="11.0" fill="#F2AC3B"/>
<rect x="547.7" y="1155.4" width="11.0" height="11.0" fill="#F2AC3B"/>
<rect x="571.8" y="1155.4" width="11.0" height="11.0" fill="#F2AC3B"/>
<rect x="475.3" y="1155.5" width="11.0" height="11.0" fill="#F2AC3B"/>
<rect x="644.1" y="1155.5" width="11.0" height="11.0" fill="#F2AC3B"/>
<rect x="415.1" y="1155.6" width="11.0" height="11.0" fill="#F2AC3B"/>
<rect x="704.4" y="1155.6" width="11.0" height="11.0" fill="#F2AC3B"/>
<rect x="366.8" y="1155.6" width="11.0" height="11.0" fill="#F2AC3B"/>
<rect x="752.6" y="1155.6" width="11.0" height="11.0" fill="#F2AC3B"/>
<rect x="439.2" y="1155.7" width="11.0" height="11.0" fill="#F2AC3B"/>
<rect x="680.3" y="1155.7" width="11.0" height="11.0" fill="#F2AC3B"/>
<rect x="403.0" y="1156.1" width="11.0" height="11.0" fill="#F2AC3B"/>
<rect x="716.5" y="1156.1" width="11.0" height="11.0" fill="#F2AC3B"/>
<rect x="378.9" y="1156.1" width="11.0" height="11.0" fill="#F2AC3B"/>
<rect x="740.6" y="1156.1" width="11.0" height="11.0" fill="#F2AC3B"/>
<rect x="366.8" y="1156.1" width="11.0" height="11.0" fill="#F2AC3B"/>
<rect x="752.6" y="1156.2" width="11.0" height="11.0" fill="#F2AD3B"/>
<rect x="487.4" y="1156.2" width="11.0" height="11.0" fill="#F2AD3B"/>
<rect x="632.1" y="1156.2" width="11.0" height="11.0" fill="#F2AD3B"/>
<rect x="391.0" y="1156.3" width="11.0" height="11.0" fill="#F2AD3B"/>
<rect x="728.5" y="1156.3" width="11.0" height="11.0" fill="#F2AD3B"/>
<rect x="366.8" y="1156.4" width="11.0" height="11.0" fill="#F2AD3B"/>
<rect x="752.6" y="1156.4" width="11.0" height="11.0" fill="#F2AD3B"/>
<rect x="499.5" y="1156.4" width="11.0" height="11.0" fill="#F2AD3B"/>
<rect x="620.0" y="1156.4" width="11.0" height="11.0" fill="#F2AD3B"/>
<rect x="451.2" y="1156.5" width="11.0" height="11.0" fill="#F2AD3B"/>
<rect x="668.2" y="1156.5" width="11.0" height="11.0" fill="#F2AD3B"/>
<rect x="427.1" y="1156.6" width="11.0" height="11.0" fill="#F2AD3B"/>
<rect x="692.4" y="1156.6" width="11.0" height="11.0" fill="#F2AD3B"/>
<rect x="378.9" y="1156.9" width="11.0" height="11.0" fill="#F2AD3B"/>
<rect x="740.6" y="1156.9" width="11.0" height="11.0" fill="#F2AD3B"/>
<rect x="463.3" y="1157.0" width="11.0" height="11.0" fill="#F2AD3B"/>
<rect x="656.2" y="1157.0" width="11.0" height="11.0" fill="#F2AD3B"/>
<rect x="511.5" y="1157.0" width="11.0" height="11.0" fill="#F2AD3B"/>
<rect x="608.0" y="1157.0" width="11.0" height="11.0" fill="#F2AD3B"/>
<rect x="415.1" y="1157.1" width="11.0" height="11.0" fill="#F2AD3B"/>
<rect x="523.6" y="1157.1" width="11.0" height="11.0" fill="#F2AD3B"/>
<rect x="595.9" y="1157.1" width="11.0" height="11.0" fill="#F2AD3B"/>
<rect x="704.4" y="1157.1" width="11.0" height="11.0" fill="#F2AD3B"/>
<rect x="391.0" y="1157.3" width="11.0" height="11.0" fill="#F2AE3B"/>
<rect x="728.5" y="1157.3" width="11.0" height="11.0" fill="#F2AE3B"/>
<rect x="439.2" y="1157.4" width="11.0" height="11.0" fill="#F2AE3B"/>
<rect x="680.3" y="1157.4" width="11.0" height="11.0" fill="#F2AE3B"/>
<rect x="547.7" y="1157.4" width="11.0" height="11.0" fill="#F2AE3B"/>
<rect x="571.8" y="1157.4" width="11.0" height="11.0" fill="#F2AE3B"/>
<rect x="403.0" y="1157.4" width="11.0" height="11.0" fill="#F2AE3B"/>
<rect x="378.9" y="1157.4" width="11.0" height="11.0" fill="#F2AE3B"/>
<rect x="716.5" y="1157.4" width="11.0" height="11.0" fill="#F2AE3B"/>
<rect x="740.6" y="1157.4" width="11.0" height="11.0" fill="#F2AE3B"/>
<rect x="535.6" y="1157.5" width="11.0" height="11.0" fill="#F2AE3B"/>
<rect x="583.9" y="1157.5" width="11.0" height="11.0" fill="#F2AE3B"/>
<rect x="559.7" y="1157.7" width="11.0" height="11.0" fill="#F2AE3B"/>
<rect x="378.9" y="1157.7" width="11.0" height="11.0" fill="#F2AE3B"/>
<rect x="740.6" y="1157.7" width="11.0" height="11.0" fill="#F2AE3B"/>
<rect x="475.3" y="1157.8" width="11.0" height="11.0" fill="#F2AE3B"/>
<rect x="644.1" y="1157.8" width="11.0" height="11.0" fill="#F2AE3B"/>
<rect x="427.1" y="1158.3" width="11.0" height="11.0" fill="#F2AE3B"/>
<rect x="692.4" y="1158.3" width="11.0" height="11.0" fill="#F2AF3B"/>
<rect x="451.2" y="1158.3" width="11.0" height="11.0" fill="#F2AF3B"/>
<rect x="668.2" y="1158.3" width="11.0" height="11.0" fill="#F2AF3B"/>
<rect x="391.0" y="1158.4" width="11.0" height="11.0" fill="#F2AF3B"/>
<rect x="728.5" y="1158.4" width="11.0" height="11.0" fill="#F2AF3B"/>
<rect x="487.4" y="1158.5" width="11.0" height="11.0" fill="#F2AF3B"/>
<rect x="632.1" y="1158.5" width="11.0" height="11.0" fill="#F2AF3B"/>
<rect x="403.0" y="1159.3" width="11.0" height="11.0" fill="#F2AF3C"/>
<rect x="716.5" y="1159.4" width="11.0" height="11.0" fill="#F2AF3C"/>
<rect x="415.1" y="1159.4" width="11.0" height="11.0" fill="#F2B03C"/>
<rect x="704.4" y="1159.4" width="11.0" height="11.0" fill="#F2B03C"/>
<rect x="391.0" y="1159.9" width="11.0" height="11.0" fill="#F2B03C"/>
<rect x="728.5" y="1159.9" width="11.0" height="11.0" fill="#F2B03C"/>
<rect x="499.5" y="1160.3" width="11.0" height="11.0" fill="#F2B03C"/>
<rect x="620.0" y="1160.3" width="11.0" height="11.0" fill="#F2B03C"/>
<rect x="391.0" y="1160.6" width="11.0" height="11.0" fill="#F2B13C"/>
<rect x="728.5" y="1160.6" width="11.0" height="11.0" fill="#F2B13C"/>
<rect x="439.2" y="1160.7" width="11.0" height="11.0" fill="#F2B13C"/>
<rect x="463.3" y="1160.7" width="11.0" height="11.0" fill="#F2B13C"/>
<rect x="680.3" y="1160.7" width="11.0" height="11.0" fill="#F2B13C"/>
<rect x="656.2" y="1160.7" width="11.0" height="11.0" fill="#F2B13C"/>
<rect x="511.5" y="1160.9" width="11.0" height="11.0" fill="#F2B13C"/>
<rect x="608.0" y="1160.9" width="11.0" height="11.0" fill="#F2B13C"/>
<rect x="403.0" y="1161.6" width="11.0" height="11.0" fill="#F2B23C"/>
<rect x="716.5" y="1161.7" width="11.0" height="11.0" fill="#F2B23C"/>
<rect x="475.3" y="1162.1" width="11.0" height="11.0" fill="#F2B23C"/>
<rect x="427.1" y="1162.1" width="11.0" height="11.0" fill="#F2B23C"/>
<rect x="644.1" y="1162.1" width="11.0" height="11.0" fill="#F2B23C"/>
<rect x="692.4" y="1162.2" width="11.0" height="11.0" fill="#F2B23C"/>
<rect x="523.6" y="1162.2" width="11.0" height="11.0" fill="#F2B23C"/>
<rect x="595.9" y="1162.3" width="11.0" height="11.0" fill="#F2B23C"/>
<rect x="535.6" y="1162.3" width="11.0" height="11.0" fill="#F2B23C"/>
<rect x="583.9" y="1162.3" width="11.0" height="11.0" fill="#F2B23C"/>
<rect x="415.1" y="1162.4" width="11.0" height="11.0" fill="#F2B23C"/>
<rect x="704.4" y="1162.4" width="11.0" height="11.0" fill="#F2B23C"/>
<rect x="559.7" y="1162.8" width="11.0" height="11.0" fill="#F2B33C"/>
<rect x="403.0" y="1163.2" width="11.0" height="11.0" fill="#F2B33C"/>
<rect x="716.5" y="1163.2" width="11.0" height="11.0" fill="#F2B33C"/>
<rect x="547.7" y="1163.3" width="11.0" height="11.0" fill="#F2B33C"/>
<rect x="571.8" y="1163.3" width="11.0" height="11.0" fill="#F2B33C"/>
<rect x="451.2" y="1163.4" width="11.0" height="11.0" fill="#F2B33C"/>
<rect x="668.2" y="1163.5" width="11.0" height="11.0" fill="#F2B33C"/>
<rect x="403.0" y="1164.0" width="11.0" height="11.0" fill="#F2B43C"/>
<rect x="716.5" y="1164.0" width="11.0" height="11.0" fill="#F2B43C"/>
<rect x="487.4" y="1164.2" width="11.0" height="11.0" fill="#F2B43C"/>
<rect x="632.1" y="1164.2" width="11.0" height="11.0" fill="#F2B43C"/>
<rect x="415.1" y="1164.7" width="11.0" height="11.0" fill="#F2B53C"/>
<rect x="704.4" y="1164.8" width="11.0" height="11.0" fill="#F2B53C"/>
<rect x="439.2" y="1164.9" width="11.0" height="11.0" fill="#F2B53C"/>
<rect x="680.3" y="1164.9" width="11.0" height="11.0" fill="#F2B53C"/>
<rect x="463.3" y="1165.0" width="11.0" height="11.0" fill="#F2B53C"/>
<rect x="656.2" y="1165.0" width="11.0" height="11.0" fill="#F2B53C"/>
<rect x="499.5" y="1165.2" width="11.0" height="11.0" fill="#F2B53C"/>
<rect x="620.0" y="1165.2" width="11.0" height="11.0" fill="#F2B53C"/>
<rect x="427.1" y="1165.4" width="11.0" height="11.0" fill="#F2B53C"/>
<rect x="692.4" y="1165.4" width="11.0" height="11.0" fill="#F2B63C"/>
<rect x="415.1" y="1166.7" width="11.0" height="11.0" fill="#F2B73C"/>
<rect x="704.4" y="1166.7" width="11.0" height="11.0" fill="#F2B73C"/>
<rect x="511.5" y="1167.1" width="11.0" height="11.0" fill="#F2B83D"/>
<rect x="608.0" y="1167.2" width="11.0" height="11.0" fill="#F2B83D"/>
<rect x="451.2" y="1167.5" width="11.0" height="11.0" fill="#F2B83D"/>
<rect x="668.2" y="1167.6" width="11.0" height="11.0" fill="#F2B83D"/>
<rect x="415.1" y="1167.7" width="11.0" height="11.0" fill="#F2B93D"/>
<rect x="704.4" y="1167.7" width="11.0" height="11.0" fill="#F2B93D"/>
<rect x="523.6" y="1167.8" width="11.0" height="11.0" fill="#F2B93D"/>
<rect x="595.9" y="1167.8" width="11.0" height="11.0" fill="#F2B93D"/>
<rect x="475.3" y="1168.2" width="11.0" height="11.0" fill="#F2B93D"/>
<rect x="644.1" y="1168.2" width="11.0" height="11.0" fill="#F2B93D"/>
<rect x="427.1" y="1168.4" width="11.0" height="11.0" fill="#F2B93D"/>
<rect x="692.4" y="1168.5" width="11.0" height="11.0" fill="#F2BA3D"/>
<rect x="439.2" y="1168.7" width="11.0" height="11.0" fill="#F2BA3D"/>
<rect x="680.3" y="1168.8" width="11.0" height="11.0" fill="#F2BA3D"/>
<rect x="547.7" y="1169.1" width="11.0" height="11.0" fill="#F2BA3D"/>
<rect x="571.8" y="1169.1" width="11.0" height="11.0" fill="#F2BA3D"/>
<rect x="535.6" y="1169.1" width="11.0" height="11.0" fill="#F2BA3D"/>
<rect x="583.9" y="1169.1" width="11.0" height="11.0" fill="#F2BA3D"/>
<rect x="487.4" y="1169.5" width="11.0" height="11.0" fill="#F2BB3D"/>
<rect x="632.1" y="1169.5" width="11.0" height="11.0" fill="#F2BB3D"/>
<rect x="559.7" y="1169.8" width="11.0" height="11.0" fill="#F1BB3D"/>
<rect x="427.1" y="1170.7" width="11.0" height="11.0" fill="#F1BD3D"/>
<rect x="692.4" y="1170.8" width="11.0" height="11.0" fill="#F1BD3D"/>
<rect x="463.3" y="1171.0" width="11.0" height="11.0" fill="#F1BD3D"/>
<rect x="656.2" y="1171.0" width="11.0" height="11.0" fill="#F1BD3D"/>
<rect x="427.1" y="1172.5" width="11.0" height="11.0" fill="#F1BF3E"/>
<rect x="692.4" y="1172.6" width="11.0" height="11.0" fill="#F1BF3E"/>
<rect x="439.2" y="1173.0" width="11.0" height="11.0" fill="#F1BF3E"/>
<rect x="680.3" y="1173.1" width="11.0" height="11.0" fill="#F1C03E"/>
<rect x="451.2" y="1173.5" width="11.0" height="11.0" fill="#F1C03E"/>
<rect x="668.2" y="1173.6" width="11.0" height="11.0" fill="#F1C03E"/>
<rect x="499.5" y="1173.6" width="11.0" height="11.0" fill="#F1C03E"/>
<rect x="620.0" y="1173.6" width="11.0" height="11.0" fill="#F1C03E"/>
<rect x="511.5" y="1174.7" width="11.0" height="11.0" fill="#F1C23E"/>
<rect x="608.0" y="1174.7" width="11.0" height="11.0" fill="#F1C23E"/>
<rect x="475.3" y="1174.8" width="11.0" height="11.0" fill="#F1C23E"/>
<rect x="644.1" y="1174.8" width="11.0" height="11.0" fill="#F1C23E"/>
<rect x="439.2" y="1176.7" width="11.0" height="11.0" fill="#F1C43E"/>
<rect x="680.3" y="1176.8" width="11.0" height="11.0" fill="#F1C43E"/>
<rect x="463.3" y="1178.0" width="11.0" height="11.0" fill="#F1C63F"/>
<rect x="656.2" y="1178.0" width="11.0" height="11.0" fill="#F1C63F"/>
<rect x="535.6" y="1178.2" width="11.0" height="11.0" fill="#F1C63F"/>
<rect x="583.9" y="1178.2" width="11.0" height="11.0" fill="#F1C63F"/>
<rect x="523.6" y="1178.2" width="11.0" height="11.0" fill="#F1C63F"/>
<rect x="595.9" y="1178.3" width="11.0" height="11.0" fill="#F1C63F"/>
<rect x="451.2" y="1178.4" width="11.0" height="11.0" fill="#F1C73F"/>
<rect x="668.2" y="1178.4" width="11.0" height="11.0" fill="#F1C73F"/>
<rect x="439.2" y="1178.5" width="11.0" height="11.0" fill="#F1C73F"/>
<rect x="680.3" y="1178.6" width="11.0" height="11.0" fill="#F1C73F"/>
<rect x="487.4" y="1178.9" width="11.0" height="11.0" fill="#F1C73F"/>
<rect x="632.1" y="1178.9" width="11.0" height="11.0" fill="#F1C73F"/>
<rect x="559.7" y="1179.2" width="11.0" height="11.0" fill="#F1C83F"/>
<rect x="547.7" y="1180.3" width="11.0" height="11.0" fill="#F1C93F"/>
<rect x="571.8" y="1180.3" width="11.0" height="11.0" fill="#F0C93F"/>
<rect x="499.5" y="1181.4" width="11.0" height="11.0" fill="#F0CA3F"/>
<rect x="620.0" y="1181.4" width="11.0" height="11.0" fill="#F0CA3F"/>
<rect x="451.2" y="1181.8" width="11.0" height="11.0" fill="#F0CB3F"/>
<rect x="668.2" y="1181.9" width="11.0" height="11.0" fill="#F0CB3F"/>
<rect x="475.3" y="1182.3" width="11.0" height="11.0" fill="#F0CC3F"/>
<rect x="644.1" y="1182.4" width="11.0" height="11.0" fill="#F0CC3F"/>
<rect x="463.3" y="1183.2" width="11.0" height="11.0" fill="#F0CD40"/>
<rect x="656.2" y="1183.2" width="11.0" height="11.0" fill="#F0CD40"/>
<rect x="451.2" y="1183.5" width="11.0" height="11.0" fill="#F0CD40"/>
<rect x="668.2" y="1183.6" width="11.0" height="11.0" fill="#F0CD40"/>
<rect x="511.5" y="1184.3" width="11.0" height="11.0" fill="#F0CE40"/>
<rect x="608.0" y="1184.3" width="11.0" height="11.0" fill="#F0CE40"/>
<rect x="487.4" y="1185.5" width="11.0" height="11.0" fill="#F0D040"/>
<rect x="632.1" y="1185.6" width="11.0" height="11.0" fill="#F0D040"/>
<rect x="523.6" y="1185.9" width="11.0" height="11.0" fill="#F0D040"/>
<rect x="595.9" y="1185.9" width="11.0" height="11.0" fill="#F0D040"/>
<rect x="463.3" y="1186.6" width="11.0" height="11.0" fill="#F0D140"/>
<rect x="656.2" y="1186.6" width="11.0" height="11.0" fill="#F0D140"/>
<rect x="475.3" y="1187.0" width="11.0" height="11.0" fill="#F0D240"/>
<rect x="644.1" y="1187.0" width="11.0" height="11.0" fill="#F0D240"/>
<rect x="535.6" y="1187.4" width="11.0" height="11.0" fill="#F0D240"/>
<rect x="583.9" y="1187.4" width="11.0" height="11.0" fill="#F0D240"/>
<rect x="547.7" y="1187.7" width="11.0" height="11.0" fill="#F0D240"/>
<rect x="571.8" y="1187.7" width="11.0" height="11.0" fill="#F0D240"/>
<rect x="463.3" y="1187.9" width="11.0" height="11.0" fill="#F0D340"/>
<rect x="656.2" y="1187.9" width="11.0" height="11.0" fill="#F0D340"/>
<rect x="559.7" y="1188.2" width="11.0" height="11.0" fill="#F0D340"/>
<rect x="499.5" y="1188.4" width="11.0" height="11.0" fill="#F0D340"/>
<rect x="620.0" y="1188.5" width="11.0" height="11.0" fill="#F0D340"/>
<rect x="487.4" y="1189.4" width="11.0" height="11.0" fill="#F0D440"/>
<rect x="632.1" y="1189.4" width="11.0" height="11.0" fill="#F0D440"/>
<rect x="475.3" y="1189.4" width="11.0" height="11.0" fill="#F0D440"/>
<rect x="644.1" y="1189.4" width="11.0" height="11.0" fill="#F0D440"/>
<rect x="499.5" y="1202.0" width="11.0" height="11.0" fill="#DADF45"/>
<rect x="620.0" y="1202.0" width="11.0" height="11.0" fill="#DADF45"/>
<rect x="559.7" y="1202.0" width="11.0" height="11.0" fill="#DADF45"/>
<rect x="511.5" y="1207.9" width="11.0" height="11.0" fill="#CDDB48"/>
<rect x="608.0" y="1207.9" width="11.0" height="11.0" fill="#CDDB48"/>
<rect x="487.4" y="1208.7" width="11.0" height="11.0" fill="#CCDA48"/>
<rect x="632.1" y="1208.7" width="11.0" height="11.0" fill="#CCDA48"/>
<rect x="511.5" y="1208.7" width="11.0" height="11.0" fill="#CCDA48"/>
<rect x="535.6" y="1208.7" width="11.0" height="11.0" fill="#CCDA48"/>
<rect x="583.9" y="1208.7" width="11.0" height="11.0" fill="#CCDA48"/>
<rect x="608.0" y="1208.7" width="11.0" height="11.0" fill="#CCDA48"/>
<rect x="475.3" y="1212.0" width="11.0" height="11.0" fill="#C6D848"/>
<rect x="644.1" y="1212.0" width="11.0" height="11.0" fill="#C6D848"/>
<rect x="523.6" y="1212.6" width="11.0" height="11.0" fill="#C5D848"/>
<rect x="595.9" y="1212.6" width="11.0" height="11.0" fill="#C5D848"/>
<rect x="487.4" y="1218.8" width="11.0" height="11.0" fill="#BAD448"/>
<rect x="632.1" y="1218.8" width="11.0" height="11.0" fill="#BAD448"/>
<rect x="547.7" y="1219.3" width="11.0" height="11.0" fill="#B9D348"/>
<rect x="571.8" y="1219.3" width="11.0" height="11.0" fill="#B9D348"/>
<rect x="499.5" y="1219.3" width="11.0" height="11.0" fill="#B9D348"/>
<rect x="620.0" y="1219.3" width="11.0" height="11.0" fill="#B9D348"/>
<rect x="547.7" y="1460.1" width="11.0" height="11.0" fill="#4B5EAB"/>
<rect x="571.8" y="1460.1" width="11.0" height="11.0" fill="#4B5EAB"/>
<rect x="523.6" y="1460.1" width="11.0" height="11.0" fill="#4B5EAB"/>
<rect x="547.7" y="1460.1" width="11.0" height="11.0" fill="#4B5EAB"/>
<rect x="571.8" y="1460.1" width="11.0" height="11.0" fill="#4B5EAB"/>
<rect x="595.9" y="1460.1" width="11.0" height="11.0" fill="#4B5EAB"/>
<rect x="535.6" y="1460.1" width="11.0" height="11.0" fill="#4B5EAB"/>
<rect x="559.7" y="1460.1" width="11.0" height="11.0" fill="#4B5EAB"/>
<rect x="583.9" y="1460.1" width="11.0" height="11.0" fill="#4B5EAB"/>
<rect x="534.0" y="1470.1" width="11.0" height="11.0" fill="#4A59A8"/>
<rect x="559.7" y="1470.1" width="11.0" height="11.0" fill="#4A59A8"/>
<rect x="586.0" y="1470.1" width="11.0" height="11.0" fill="#4A59A8"/>
<rect x="509.2" y="1246.9" width="11.0" height="11.0" fill="#7AB834"/>
<rect x="520.3" y="1246.9" width="11.0" height="11.0" fill="#7AB834"/>
<rect x="547.4" y="1246.9" width="11.0" height="11.0" fill="#7AB834"/>
<rect x="571.0" y="1246.9" width="11.0" height="11.0" fill="#7AB834"/>
<rect x="597.5" y="1246.9" width="11.0" height="11.0" fill="#7AB834"/>
<rect x="608.7" y="1246.9" width="11.0" height="11.0" fill="#7AB834"/>
<rect x="498.9" y="1272.3" width="11.0" height="11.0" fill="#6AB030"/>
<rect x="524.0" y="1272.3" width="11.0" height="11.0" fill="#6AB030"/>
<rect x="534.5" y="1272.3" width="11.0" height="11.0" fill="#6AB030"/>
<rect x="583.5" y="1272.3" width="11.0" height="11.0" fill="#6AB030"/>
<rect x="594.0" y="1272.3" width="11.0" height="11.0" fill="#6AB030"/>
<rect x="619.2" y="1272.3" width="11.0" height="11.0" fill="#6AB030"/>
<rect x="512.0" y="1307.1" width="11.0" height="11.0" fill="#5AAF78"/>
<rect x="559.0" y="1307.1" width="11.0" height="11.0" fill="#5AAF78"/>
<rect x="607.4" y="1307.1" width="11.0" height="11.0" fill="#5AAF78"/>
<line x1="196" y1="1146.2" x2="885.5" y2="1146.2" stroke="#1a1a1a" stroke-width="2.6"/>
<line x1="257.6" y1="1125.9" x2="257.6" y2="1146" stroke="#333" stroke-width="2"/>
<line x1="357" y1="1125.9" x2="357" y2="1146" stroke="#333" stroke-width="2"/>
<line x1="455.7" y1="1125.9" x2="455.7" y2="1146" stroke="#333" stroke-width="2"/>
<line x1="555.5" y1="1125.9" x2="555.5" y2="1146" stroke="#333" stroke-width="2"/>
<line x1="655" y1="1125.9" x2="655" y2="1146" stroke="#333" stroke-width="2"/>
<line x1="754.5" y1="1125.9" x2="754.5" y2="1146" stroke="#333" stroke-width="2"/>
<line x1="853" y1="1125.9" x2="853" y2="1146" stroke="#333" stroke-width="2"/>
<g><text transform="translate(5.49,61.04) scale(0.8263,1.0242)" style="font-family:'Liberation Sans',sans-serif;font-size:70px;font-kerning:none" fill="#1a1a1a" stroke="#fff" stroke-width="1.6"><tspan style="">(</tspan></text></g>
<g><text transform="translate(26.34,65.34) scale(0.8194,1.0615)" style="font-family:'Liberation Sans',sans-serif;font-size:70px;font-kerning:none" fill="#1a1a1a" stroke="#fff" stroke-width="1.6"><tspan style="">a</tspan></text></g>
<g><text transform="translate(64.63,61.04) scale(0.8722,1.0242)" style="font-family:'Liberation Sans',sans-serif;font-size:70px;font-kerning:none" fill="#1a1a1a" stroke="#fff" stroke-width="1.6"><tspan style="">)</tspan></text></g>
<g><text transform="translate(8.50,979.56) scale(0.8000,1.0091)" style="font-family:'Liberation Sans',sans-serif;font-size:70px;font-kerning:none" fill="#1a1a1a" stroke="#fff" stroke-width="1.6"><tspan style="">(</tspan></text></g>
<g><text transform="translate(30.03,984.57) scale(1.1438,1.1250)" style="font-family:'Liberation Sans',sans-serif;font-size:70px;font-kerning:none" fill="#1a1a1a" stroke="#fff" stroke-width="1.6"><tspan style="">b</tspan></text></g>
<g><text transform="translate(73.73,979.56) scale(0.8667,1.0091)" style="font-family:'Liberation Sans',sans-serif;font-size:70px;font-kerning:none" fill="#1a1a1a" stroke="#fff" stroke-width="1.6"><tspan style="">)</tspan></text></g>
<g><text transform="translate(150.53,179.15) scale(0.9667,1.0476)" style="font-family:'Liberation Serif',serif;font-size:32px;font-kerning:none" fill="#1a1a1a"><tspan style="">30</tspan></text></g>
<g><text transform="translate(149.71,278.60) scale(0.9933,1.0476)" style="font-family:'Liberation Serif',serif;font-size:32px;font-kerning:none" fill="#1a1a1a"><tspan style="">20</tspan></text></g>
<g><text transform="translate(150.83,378.40) scale(0.9571,1.0476)" style="font-family:'Liberation Serif',serif;font-size:32px;font-kerning:none" fill="#1a1a1a"><tspan style="">10</tspan></text></g>
<g><text transform="translate(167.86,478.65) scale(0.9357,1.0476)" style="font-family:'Liberation Serif',serif;font-size:32px;font-kerning:none" fill="#1a1a1a"><tspan style="">0</tspan></text></g>
<g><text transform="translate(138.91,578.25) scale(0.9878,1.0476)" style="font-family:'Liberation Serif',serif;font-size:32px;font-kerning:none" fill="#1a1a1a"><tspan style="">-10</tspan></text></g>
<g><text transform="translate(138.91,678.35) scale(0.9878,1.0476)" style="font-family:'Liberation Serif',serif;font-size:32px;font-kerning:none" fill="#1a1a1a"><tspan style="">-20</tspan></text></g>
<g><text transform="translate(138.91,778.45) scale(0.9878,1.0476)" style="font-family:'Liberation Serif',serif;font-size:32px;font-kerning:none" fill="#1a1a1a"><tspan style="">-30</tspan></text></g>
<g><text transform="translate(226.68,837.85) scale(1.0220,1.0476)" style="font-family:'Liberation Serif',serif;font-size:32px;font-kerning:none" fill="#1a1a1a"><tspan style="">-30</tspan></text></g>
<g><text transform="translate(326.49,837.85) scale(1.0122,1.0476)" style="font-family:'Liberation Serif',serif;font-size:32px;font-kerning:none" fill="#1a1a1a"><tspan style="">-20</tspan></text></g>
<g><text transform="translate(425.24,837.85) scale(0.9585,1.0476)" style="font-family:'Liberation Serif',serif;font-size:32px;font-kerning:none" fill="#1a1a1a"><tspan style="">-10</tspan></text></g>
<g><text transform="translate(540.54,837.85) scale(1.0571,1.0476)" style="font-family:'Liberation Serif',serif;font-size:32px;font-kerning:none" fill="#1a1a1a"><tspan style="">0</tspan></text></g>
<g><text transform="translate(629.50,837.85) scale(1.0321,1.0476)" style="font-family:'Liberation Serif',serif;font-size:32px;font-kerning:none" fill="#1a1a1a"><tspan style="">10</tspan></text></g>
<g><text transform="translate(730.42,837.85) scale(0.9833,1.0476)" style="font-family:'Liberation Serif',serif;font-size:32px;font-kerning:none" fill="#1a1a1a"><tspan style="">20</tspan></text></g>
<g><text transform="translate(825.89,837.85) scale(1.0067,1.0476)" style="font-family:'Liberation Serif',serif;font-size:32px;font-kerning:none" fill="#1a1a1a"><tspan style="">30</tspan></text></g>
<g><text transform="translate(955.37,184.65) scale(0.9297,1.0476)" style="font-family:'Liberation Serif',serif;font-size:32px;font-kerning:none" fill="#1a1a1a"><tspan style="">0.1</tspan></text></g>
<g><text transform="translate(955.30,332.05) scale(0.9974,1.0476)" style="font-family:'Liberation Serif',serif;font-size:32px;font-kerning:none" fill="#1a1a1a"><tspan style="">0.0</tspan></text></g>
<g><text transform="translate(944.14,485.50) scale(0.9562,1.0476)" style="font-family:'Liberation Serif',serif;font-size:32px;font-kerning:none" fill="#1a1a1a"><tspan style="">-0.1</tspan></text></g>
<g><text transform="translate(944.11,633.80) scale(0.9854,1.0476)" style="font-family:'Liberation Serif',serif;font-size:32px;font-kerning:none" fill="#1a1a1a"><tspan style="">-0.2</tspan></text></g>
<g><text transform="translate(944.13,780.50) scale(0.9653,1.0476)" style="font-family:'Liberation Serif',serif;font-size:32px;font-kerning:none" fill="#1a1a1a"><tspan style="">-0.3</tspan></text></g>
<g><text transform="translate(136.06,1013.40) scale(0.9351,1.0476)" style="font-family:'Liberation Serif',serif;font-size:32px;font-kerning:none" fill="#1a1a1a"><tspan style="">0.1</tspan></text></g>
<g><text transform="translate(136.01,1154.25) scale(0.9921,1.0476)" style="font-family:'Liberation Serif',serif;font-size:32px;font-kerning:none" fill="#1a1a1a"><tspan style="">0.0</tspan></text></g>
<g><text transform="translate(124.74,1293.95) scale(0.9563,1.0476)" style="font-family:'Liberation Serif',serif;font-size:32px;font-kerning:none" fill="#1a1a1a"><tspan style="">-0.1</tspan></text></g>
<g><text transform="translate(124.89,1433.65) scale(1.0063,1.0476)" style="font-family:'Liberation Serif',serif;font-size:32px;font-kerning:none" fill="#1a1a1a"><tspan style="">-0.2</tspan></text></g>
<g><text transform="translate(124.91,1573.55) scale(0.9857,1.0476)" style="font-family:'Liberation Serif',serif;font-size:32px;font-kerning:none" fill="#1a1a1a"><tspan style="">-0.3</tspan></text></g>
<g><text transform="translate(232.70,1110.85) scale(0.9976,1.0476)" style="font-family:'Liberation Serif',serif;font-size:32px;font-kerning:none" fill="#1a1a1a"><tspan style="">-30</tspan></text></g>
<g><text transform="translate(331.49,1110.85) scale(1.0122,1.0476)" style="font-family:'Liberation Serif',serif;font-size:32px;font-kerning:none" fill="#1a1a1a"><tspan style="">-20</tspan></text></g>
<g><text transform="translate(430.20,1110.85) scale(0.9976,1.0476)" style="font-family:'Liberation Serif',serif;font-size:32px;font-kerning:none" fill="#1a1a1a"><tspan style="">-10</tspan></text></g>
<g><text transform="translate(546.44,1110.85) scale(0.9571,1.0476)" style="font-family:'Liberation Serif',serif;font-size:32px;font-kerning:none" fill="#1a1a1a"><tspan style="">0</tspan></text></g>
<g><text transform="translate(634.70,1110.85) scale(1.0000,1.0476)" style="font-family:'Liberation Serif',serif;font-size:32px;font-kerning:none" fill="#1a1a1a"><tspan style="">10</tspan></text></g>
<g><text transform="translate(712.92,1110.85) scale(0.9833,1.0476)" style="font-family:'Liberation Serif',serif;font-size:32px;font-kerning:none" fill="#1a1a1a"><tspan style="">20</tspan></text></g>
<g><text transform="translate(832.72,1110.85) scale(0.9833,1.0476)" style="font-family:'Liberation Serif',serif;font-size:32px;font-kerning:none" fill="#1a1a1a"><tspan style="">30</tspan></text></g>
<g><text transform="translate(591.70,883.80) scale(1.0579,1)" style="font-family:'Liberation Serif',serif;font-size:44px;font-kerning:none" fill="#1a1a1a"><tspan style="font-style:italic">x</tspan></text></g>
<g><text transform="translate(624.96,883.80) scale(1.0423,1)" style="font-family:'Liberation Serif',serif;font-size:44px;font-kerning:none" fill="#1a1a1a"><tspan style="">position,</tspan></text></g>
<g><text transform="translate(818.30,883.80) scale(1.0095,1)" style="font-family:'Liberation Serif',serif;font-size:44px;font-kerning:none" fill="#1a1a1a"><tspan style="font-style:italic">x</tspan><tspan style="">/Å</tspan></text></g>
<g><text transform="translate(128.40,457.70) rotate(-90) scale(1.0471,1)" style="font-family:'Liberation Serif',serif;font-size:44px;font-kerning:none" fill="#1a1a1a"><tspan style="font-style:italic">z</tspan></text></g>
<g><text transform="translate(128.40,427.04) rotate(-90) scale(1.0383,1)" style="font-family:'Liberation Serif',serif;font-size:44px;font-kerning:none" fill="#1a1a1a"><tspan style="">position,</tspan></text></g>
<g><text transform="translate(128.40,234.40) rotate(-90) scale(1.0213,1)" style="font-family:'Liberation Serif',serif;font-size:44px;font-kerning:none" fill="#1a1a1a"><tspan style="font-style:italic">z</tspan><tspan style="">/Å</tspan></text></g>
<g><text transform="translate(357.59,140.90) scale(1.0067,1)" style="font-family:'Liberation Serif',serif;font-size:40.5px;font-kerning:none" fill="#1a1a1a"><tspan style="">dislocation core</tspan></text></g>
<g><text transform="translate(1030.40,758.78) rotate(-90) scale(0.9799,1)" style="font-family:'Liberation Serif',serif;font-size:40.5px;font-kerning:none" fill="#1a1a1a"><tspan style="">Interaction energy ,</tspan></text></g>
<g><text transform="translate(1031.40,432.70) rotate(-90) scale(0.9917,1)" style="font-family:'Liberation Serif',serif;font-size:40.5px;font-kerning:none" fill="#1a1a1a"><tspan style="font-style:italic">E</tspan></text></g>
<g><text transform="translate(1043.00,405.85) rotate(-90) scale(0.9500,1)" style="font-family:'Liberation Serif',serif;font-size:25px;font-kerning:none" fill="#1a1a1a"><tspan style="">disl-Si</tspan></text></g>
<g><text transform="translate(1030.60,329.50) rotate(-90) scale(0.9828,1)" style="font-family:'Liberation Serif',serif;font-size:40.5px;font-kerning:none" fill="#1a1a1a"><tspan style="">/eV</tspan></text></g>
<g><text transform="translate(594.00,1059.60) scale(1.0579,1)" style="font-family:'Liberation Serif',serif;font-size:44px;font-kerning:none" fill="#1a1a1a"><tspan style="font-style:italic">x</tspan></text></g>
<g><text transform="translate(625.65,1059.60) scale(1.0530,1)" style="font-family:'Liberation Serif',serif;font-size:44px;font-kerning:none" fill="#1a1a1a"><tspan style="">position,</tspan></text></g>
<g><text transform="translate(821.40,1059.60) scale(1.0206,1)" style="font-family:'Liberation Serif',serif;font-size:44px;font-kerning:none" fill="#1a1a1a"><tspan style="font-style:italic">x</tspan><tspan style="">/Å</tspan></text></g>
<g><text transform="translate(97.90,1536.70) rotate(-90) scale(0.9978,1)" style="font-family:'Liberation Serif',serif;font-size:40.5px;font-kerning:none" fill="#1a1a1a"><tspan style="">Interaction energy ,</tspan></text></g>
<g><text transform="translate(98.40,1209.20) rotate(-90) scale(0.9333,1)" style="font-family:'Liberation Serif',serif;font-size:40.5px;font-kerning:none" fill="#1a1a1a"><tspan style="font-style:italic">E</tspan></text></g>
<g clip-path="url(#clip_byt3)"><text transform="translate(104.70,1185.89) rotate(-90) scale(0.9921,1)" style="font-family:'Liberation Serif',serif;font-size:24.5px;font-kerning:none" fill="#1a1a1a"><tspan style="">disl-Si</tspan></text></g>
<g><text transform="translate(97.90,1108.30) rotate(-90) scale(0.9845,1)" style="font-family:'Liberation Serif',serif;font-size:40.5px;font-kerning:none" fill="#1a1a1a"><tspan style="">/eV</tspan></text></g>
<defs><clipPath id="clip_byt3"><rect x="91.6" y="0" width="958.4" height="1587"/></clipPath></defs>
</svg></body></html>
